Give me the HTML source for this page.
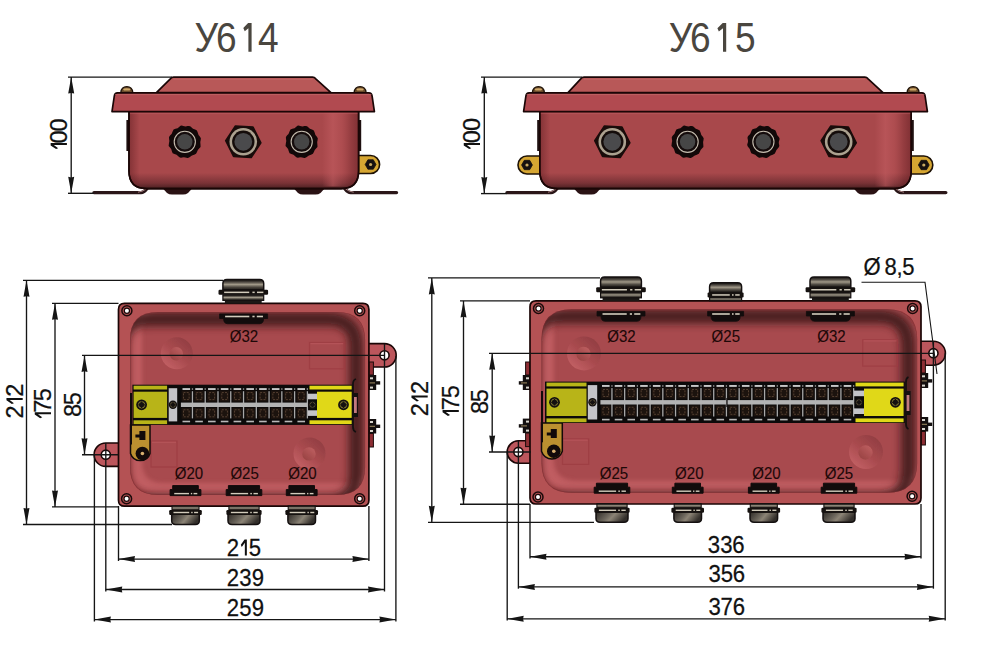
<!DOCTYPE html><html><head><meta charset="utf-8"><style>
html,body{margin:0;padding:0;background:#fff;width:1000px;height:647px;overflow:hidden}
svg{display:block}
.dt{font-family:"Liberation Sans",sans-serif;font-size:24.6px;fill:#111;stroke:#111;stroke-width:0.25}
.tt{font-family:"Liberation Sans",sans-serif;font-size:41.7px;fill:#4a463f}
text{font-family:"Liberation Sans",sans-serif}
.gl{font-family:"Liberation Sans",sans-serif;font-size:16.9px;fill:#1e0808;stroke:#1e0808;stroke-width:0.12}
</style></head><body>
<svg width="1000" height="647" viewBox="0 0 1000 647">
<defs>
<linearGradient id="bodyg" x1="0" y1="0" x2="0" y2="1">
<stop offset="0" stop-color="#a8484b"/><stop offset="0.8" stop-color="#a8484b"/><stop offset="0.93" stop-color="#7a3236"/><stop offset="1" stop-color="#4a2022"/>
</linearGradient>
<linearGradient id="bodyh" x1="0" y1="0" x2="1" y2="0">
<stop offset="0" stop-color="#5a1a1e" stop-opacity="0.35"/><stop offset="0.04" stop-color="#5a1a1e" stop-opacity="0.0"/><stop offset="0.86" stop-color="#d06a6e" stop-opacity="0"/><stop offset="0.9" stop-color="#d06a6e" stop-opacity="0.3"/><stop offset="0.95" stop-color="#5a1a1e" stop-opacity="0.15"/><stop offset="1" stop-color="#5a1a1e" stop-opacity="0.4"/>
</linearGradient>
<linearGradient id="bodyhr" x1="0" y1="0" x2="1" y2="0">
<stop offset="0" stop-color="#c45e62" stop-opacity="0"/><stop offset="0.3" stop-color="#c45e62" stop-opacity="0.55"/><stop offset="0.55" stop-color="#c45e62" stop-opacity="0.2"/><stop offset="0.8" stop-color="#5a1a1e" stop-opacity="0.25"/><stop offset="1" stop-color="#5a1a1e" stop-opacity="0.5"/>
</linearGradient>
<linearGradient id="bodyhl" x1="0" y1="0" x2="1" y2="0">
<stop offset="0" stop-color="#5a1a1e" stop-opacity="0.45"/><stop offset="1" stop-color="#5a1a1e" stop-opacity="0"/>
</linearGradient>
<linearGradient id="capg" x1="0" y1="0" x2="0" y2="1">
<stop offset="0" stop-color="#161412"/><stop offset="0.22" stop-color="#45403a"/><stop offset="0.48" stop-color="#a09888"/><stop offset="0.75" stop-color="#4a453e"/><stop offset="1" stop-color="#1e1b18"/>
</linearGradient>
<linearGradient id="capb" x1="0" y1="0" x2="1" y2="0.3">
<stop offset="0" stop-color="#2e2a26"/><stop offset="0.45" stop-color="#6e685e"/><stop offset="0.6" stop-color="#8c8476"/><stop offset="1" stop-color="#322e2a"/>
</linearGradient>
<linearGradient id="bossg" x1="0.85" y1="0.1" x2="0.15" y2="0.9">
<stop offset="0" stop-color="#923e42"/><stop offset="0.5" stop-color="#a84a4e"/><stop offset="1" stop-color="#c26064"/>
</linearGradient>
<linearGradient id="bossi" x1="0.85" y1="0.1" x2="0.15" y2="0.9">
<stop offset="0" stop-color="#c46466"/><stop offset="1" stop-color="#94403f"/>
</linearGradient>
<filter id="blur4" x="-10%" y="-10%" width="120%" height="120%"><feGaussianBlur stdDeviation="4"/></filter>
<filter id="blur2" x="-10%" y="-10%" width="120%" height="120%"><feGaussianBlur stdDeviation="2"/></filter>
<filter id="blur05" x="-10%" y="-10%" width="120%" height="120%"><feGaussianBlur stdDeviation="0.7"/></filter>
</defs>
<rect width="1000" height="647" fill="#fff"/>

<g transform="translate(0,51.80)"><text transform="scale(0.8900,1)" x="218.65" y="0" style="font-size:41.70px" fill="#4a463f">У</text><text transform="scale(0.8900,1)" x="242.59" y="0" style="font-size:41.70px" fill="#4a463f">6</text><path d="M 251.60 0.00 L 251.60 -28.69 L 248.10 -28.69 L 243.30 -23.88 L 244.74 -20.52 L 248.40 -23.57 L 248.40 0.00 Z" fill="#4a463f"/><text transform="scale(0.8900,1)" x="289.83" y="0" style="font-size:41.70px" fill="#4a463f">4</text></g>
<g transform="translate(0,51.80)"><text transform="scale(0.8900,1)" x="751.46" y="0" style="font-size:41.70px" fill="#4a463f">У</text><text transform="scale(0.8900,1)" x="775.40" y="0" style="font-size:41.70px" fill="#4a463f">6</text><path d="M 726.20 0.00 L 726.20 -28.69 L 722.70 -28.69 L 717.40 -23.59 L 718.84 -20.23 L 723.00 -23.57 L 723.00 0.00 Z" fill="#4a463f"/><text transform="scale(0.8900,1)" x="825.75" y="0" style="font-size:41.70px" fill="#4a463f">5</text></g>
<path d="M 94.00 192.6 H 141.00 Q 144.00 192.6 147.00 188.6" fill="none" stroke="#2a1618" stroke-width="3.4" stroke-linecap="round"/>
<path d="M 138.00 192.2 Q 143.00 191.5 146.00 189" fill="none" stroke="#c9a0a0" stroke-width="0.8"/>
<path d="M 344.70 188.6 Q 347.70 192.6 350.70 192.6 H 396.50" fill="none" stroke="#2a1618" stroke-width="3.4" stroke-linecap="round"/>
<path d="M 345.70 189 Q 348.70 191.5 353.70 192.2" fill="none" stroke="#c9a0a0" stroke-width="0.8"/>
<path d="M 162.00 187.5 L 167.00 193 Q 169.00 194.6 172.00 194.6 H 183.00 Q 186.00 194.6 188.00 193 L 193.00 187.5 Z" fill="#2a1214"/>
<path d="M 293.00 187.5 L 298.00 193 Q 300.00 194.6 303.00 194.6 H 315.50 Q 318.50 194.6 320.50 193 L 325.50 187.5 Z" fill="#2a1214"/>
<path d="M 357.00 155.50 H 370.60 A 9.00 9.00 0 0 1 370.60 173.50 H 357.00 Z" fill="#d6a632" stroke="#1e1206" stroke-width="1.6"/>
<path d="M 376.00 164.50 L 373.30 169.18 L 367.90 169.18 L 365.20 164.50 L 367.90 159.82 L 373.30 159.82 Z" fill="#161010" stroke="#161010" stroke-width="0.8" stroke-linejoin="round"/>
<circle cx="370.60" cy="164.50" r="1.6" fill="#c8a860"/>
<rect x="126.40" y="120" width="3" height="31" fill="#1e1010"/>
<rect x="358.20" y="120" width="3" height="31" fill="#1e1010"/>
<path d="M 129.00 110 V 171 Q 129.00 188.6 146.50 188.6 H 341.10 Q 358.60 188.6 358.60 171 V 110 Z" fill="url(#bodyg)" stroke="#1a0606" stroke-width="1.6"/>
<clipPath id="bc129"><path d="M 129.00 110 V 171 Q 129.00 188.6 146.50 188.6 H 341.10 Q 358.60 188.6 358.60 171 V 110 Z"/></clipPath>
<g clip-path="url(#bc129)">
<rect x="322.10" y="112.5" width="36" height="74" fill="url(#bodyhr)"/>
<rect x="129.50" y="112.5" width="10" height="74" fill="url(#bodyhl)"/>
</g>
<path d="M 129.00 110 V 171 Q 129.00 188.6 146.50 188.6 H 341.10 Q 358.60 188.6 358.60 171 V 110 Z" fill="none" stroke="#1a0606" stroke-width="1.6"/>
<path d="M 120.80 92.6 Q 121.30 86.6 126.80 86.6 Q 132.30 86.6 132.80 92.6 Z" fill="#6a4c2c" stroke="#1e1208" stroke-width="1.3"/>
<ellipse cx="126.80" cy="89.4" rx="3.6" ry="1.2" fill="#d0a868"/>
<path d="M 354.10 92.6 Q 354.60 86.6 360.10 86.6 Q 365.60 86.6 366.10 92.6 Z" fill="#6a4c2c" stroke="#1e1208" stroke-width="1.3"/>
<ellipse cx="360.10" cy="89.4" rx="3.6" ry="1.2" fill="#d0a868"/>
<path d="M 156.40 92.6 L 170.60 78.6 Q 171.60 77.2 173.60 77.2 H 312.50 Q 314.50 77.2 315.50 78.6 L 331.00 92.6 Z" fill="#b85858" stroke="#1a0606" stroke-width="1.7" stroke-linejoin="round"/>
<line x1="173.60" y1="79.2" x2="312.50" y2="79.2" stroke="#c8706f" stroke-width="1" opacity="0.6"/>
<path d="M 112.00 111.6 L 114.30 96 Q 114.70 92.8 117.50 92.8 H 368.90 Q 371.70 92.8 372.10 96 L 374.40 111.6 Z" fill="#b14a50" stroke="#1a0606" stroke-width="1.7" stroke-linejoin="round"/>
<line x1="115.00" y1="94.6" x2="371.40" y2="94.6" stroke="#c8706f" stroke-width="1" opacity="0.6"/>
<line x1="130.00" y1="113.6" x2="357.60" y2="113.6" stroke="#c06066" stroke-width="1" opacity="0.5"/>
<path d="M 199.36 148.34 Q 197.49 149.79 196.99 152.10 Q 196.49 154.42 194.14 154.74 Q 191.80 155.07 190.21 156.82 Q 188.61 158.57 186.42 157.68 Q 184.23 156.79 181.97 157.51 Q 179.72 158.23 178.26 156.36 Q 176.81 154.49 174.50 153.99 Q 172.18 153.49 171.86 151.14 Q 171.53 148.80 169.78 147.21 Q 168.03 145.61 168.92 143.42 Q 169.81 141.23 169.09 138.97 Q 168.37 136.72 170.24 135.26 Q 172.11 133.81 172.61 131.50 Q 173.11 129.18 175.46 128.86 Q 177.80 128.53 179.39 126.78 Q 180.99 125.03 183.18 125.92 Q 185.37 126.81 187.63 126.09 Q 189.88 125.37 191.34 127.24 Q 192.79 129.11 195.10 129.61 Q 197.42 130.11 197.74 132.46 Q 198.07 134.80 199.82 136.39 Q 201.57 137.99 200.68 140.18 Q 199.79 142.37 200.51 144.63 Q 201.23 146.88 199.36 148.34 Z" fill="#120808"/>
<circle cx="184.80" cy="141.80" r="11.2" fill="#150c0c"/>
<circle cx="184.80" cy="141.80" r="10.6" fill="none" stroke="#c4bcae" stroke-width="1.1"/>
<circle cx="184.80" cy="141.80" r="7.7" fill="#464646"/>
<path d="M 316.26 148.34 Q 314.39 149.79 313.89 152.10 Q 313.39 154.42 311.04 154.74 Q 308.70 155.07 307.11 156.82 Q 305.51 158.57 303.32 157.68 Q 301.13 156.79 298.87 157.51 Q 296.62 158.23 295.16 156.36 Q 293.71 154.49 291.40 153.99 Q 289.08 153.49 288.76 151.14 Q 288.43 148.80 286.68 147.21 Q 284.93 145.61 285.82 143.42 Q 286.71 141.23 285.99 138.97 Q 285.27 136.72 287.14 135.26 Q 289.01 133.81 289.51 131.50 Q 290.01 129.18 292.36 128.86 Q 294.70 128.53 296.29 126.78 Q 297.89 125.03 300.08 125.92 Q 302.27 126.81 304.53 126.09 Q 306.78 125.37 308.24 127.24 Q 309.69 129.11 312.00 129.61 Q 314.32 130.11 314.64 132.46 Q 314.97 134.80 316.72 136.39 Q 318.47 137.99 317.58 140.18 Q 316.69 142.37 317.41 144.63 Q 318.13 146.88 316.26 148.34 Z" fill="#120808"/>
<circle cx="301.70" cy="141.80" r="11.2" fill="#150c0c"/>
<circle cx="301.70" cy="141.80" r="10.6" fill="none" stroke="#c4bcae" stroke-width="1.1"/>
<circle cx="301.70" cy="141.80" r="7.7" fill="#464646"/>
<path d="M 260.87 142.86 L 251.17 157.54 L 233.60 156.49 L 225.73 140.74 L 235.43 126.06 L 253.00 127.11 Z" fill="#1a0c0a" stroke="#1a0c0a" stroke-width="1.6" stroke-linejoin="round"/>
<circle cx="243.30" cy="141.80" r="13.8" fill="#aca290"/>
<circle cx="243.30" cy="141.80" r="11.2" fill="#140c0a"/>
<circle cx="243.30" cy="141.80" r="8.9" fill="#4a4a4c"/>
<path d="M 507.00 192.6 H 551.00 Q 554.00 192.6 557.00 188.6" fill="none" stroke="#2a1618" stroke-width="3.4" stroke-linecap="round"/>
<path d="M 548.00 192.2 Q 553.00 191.5 556.00 189" fill="none" stroke="#c9a0a0" stroke-width="0.8"/>
<path d="M 895.00 188.6 Q 898.00 192.6 901.00 192.6 H 945.80" fill="none" stroke="#2a1618" stroke-width="3.4" stroke-linecap="round"/>
<path d="M 896.00 189 Q 899.00 191.5 904.00 192.2" fill="none" stroke="#c9a0a0" stroke-width="0.8"/>
<path d="M 573.00 187.5 L 578.00 193 Q 580.00 194.6 583.00 194.6 H 591.50 Q 594.50 194.6 596.50 193 L 601.50 187.5 Z" fill="#2a1214"/>
<path d="M 852.80 187.5 L 857.80 193 Q 859.80 194.6 862.80 194.6 H 871.00 Q 874.00 194.6 876.00 193 L 881.00 187.5 Z" fill="#2a1214"/>
<path d="M 541.00 156.00 H 527.00 A 9.00 9.00 0 0 0 527.00 174.00 H 541.00 Z" fill="#d6a632" stroke="#1e1206" stroke-width="1.6"/>
<path d="M 532.40 165.00 L 529.70 169.68 L 524.30 169.68 L 521.60 165.00 L 524.30 160.32 L 529.70 160.32 Z" fill="#161010" stroke="#161010" stroke-width="0.8" stroke-linejoin="round"/>
<circle cx="527.00" cy="165.00" r="1.6" fill="#c8a860"/>
<path d="M 910.00 156.00 H 923.80 A 9.00 9.00 0 0 1 923.80 174.00 H 910.00 Z" fill="#d6a632" stroke="#1e1206" stroke-width="1.6"/>
<path d="M 929.20 165.00 L 926.50 169.68 L 921.10 169.68 L 918.40 165.00 L 921.10 160.32 L 926.50 160.32 Z" fill="#161010" stroke="#161010" stroke-width="0.8" stroke-linejoin="round"/>
<circle cx="923.80" cy="165.00" r="1.6" fill="#c8a860"/>
<rect x="537.20" y="120" width="3" height="31" fill="#1e1010"/>
<rect x="910.80" y="120" width="3" height="31" fill="#1e1010"/>
<path d="M 539.80 110 V 171 Q 539.80 188.6 557.30 188.6 H 893.70 Q 911.20 188.6 911.20 171 V 110 Z" fill="url(#bodyg)" stroke="#1a0606" stroke-width="1.6"/>
<clipPath id="bc539"><path d="M 539.80 110 V 171 Q 539.80 188.6 557.30 188.6 H 893.70 Q 911.20 188.6 911.20 171 V 110 Z"/></clipPath>
<g clip-path="url(#bc539)">
<rect x="874.70" y="112.5" width="36" height="74" fill="url(#bodyhr)"/>
<rect x="540.30" y="112.5" width="10" height="74" fill="url(#bodyhl)"/>
</g>
<path d="M 539.80 110 V 171 Q 539.80 188.6 557.30 188.6 H 893.70 Q 911.20 188.6 911.20 171 V 110 Z" fill="none" stroke="#1a0606" stroke-width="1.6"/>
<path d="M 532.40 92.6 Q 532.90 86.6 538.40 86.6 Q 543.90 86.6 544.40 92.6 Z" fill="#6a4c2c" stroke="#1e1208" stroke-width="1.3"/>
<ellipse cx="538.40" cy="89.4" rx="3.6" ry="1.2" fill="#d0a868"/>
<path d="M 907.10 92.6 Q 907.60 86.6 913.10 86.6 Q 918.60 86.6 919.10 92.6 Z" fill="#6a4c2c" stroke="#1e1208" stroke-width="1.3"/>
<ellipse cx="913.10" cy="89.4" rx="3.6" ry="1.2" fill="#d0a868"/>
<path d="M 568.00 92.6 L 581.00 78.6 Q 582.00 77.2 584.00 77.2 H 864.80 Q 866.80 77.2 867.80 78.6 L 883.00 92.6 Z" fill="#b85858" stroke="#1a0606" stroke-width="1.7" stroke-linejoin="round"/>
<line x1="584.00" y1="79.2" x2="864.80" y2="79.2" stroke="#c8706f" stroke-width="1" opacity="0.6"/>
<path d="M 523.60 111.6 L 525.90 96 Q 526.30 92.8 529.10 92.8 H 921.90 Q 924.70 92.8 925.10 96 L 927.40 111.6 Z" fill="#b14a50" stroke="#1a0606" stroke-width="1.7" stroke-linejoin="round"/>
<line x1="526.60" y1="94.6" x2="924.40" y2="94.6" stroke="#c8706f" stroke-width="1" opacity="0.6"/>
<line x1="540.80" y1="113.6" x2="910.20" y2="113.6" stroke="#c06066" stroke-width="1" opacity="0.5"/>
<path d="M 702.16 148.34 Q 700.29 149.79 699.79 152.10 Q 699.29 154.42 696.94 154.74 Q 694.60 155.07 693.01 156.82 Q 691.41 158.57 689.22 157.68 Q 687.03 156.79 684.77 157.51 Q 682.52 158.23 681.06 156.36 Q 679.61 154.49 677.30 153.99 Q 674.98 153.49 674.66 151.14 Q 674.33 148.80 672.58 147.21 Q 670.83 145.61 671.72 143.42 Q 672.61 141.23 671.89 138.97 Q 671.17 136.72 673.04 135.26 Q 674.91 133.81 675.41 131.50 Q 675.91 129.18 678.26 128.86 Q 680.60 128.53 682.19 126.78 Q 683.79 125.03 685.98 125.92 Q 688.17 126.81 690.43 126.09 Q 692.68 125.37 694.14 127.24 Q 695.59 129.11 697.90 129.61 Q 700.22 130.11 700.54 132.46 Q 700.87 134.80 702.62 136.39 Q 704.37 137.99 703.48 140.18 Q 702.59 142.37 703.31 144.63 Q 704.03 146.88 702.16 148.34 Z" fill="#120808"/>
<circle cx="687.60" cy="141.80" r="11.2" fill="#150c0c"/>
<circle cx="687.60" cy="141.80" r="10.6" fill="none" stroke="#c4bcae" stroke-width="1.1"/>
<circle cx="687.60" cy="141.80" r="7.7" fill="#464646"/>
<path d="M 777.96 148.34 Q 776.09 149.79 775.59 152.10 Q 775.09 154.42 772.74 154.74 Q 770.40 155.07 768.81 156.82 Q 767.21 158.57 765.02 157.68 Q 762.83 156.79 760.57 157.51 Q 758.32 158.23 756.86 156.36 Q 755.41 154.49 753.10 153.99 Q 750.78 153.49 750.46 151.14 Q 750.13 148.80 748.38 147.21 Q 746.63 145.61 747.52 143.42 Q 748.41 141.23 747.69 138.97 Q 746.97 136.72 748.84 135.26 Q 750.71 133.81 751.21 131.50 Q 751.71 129.18 754.06 128.86 Q 756.40 128.53 757.99 126.78 Q 759.59 125.03 761.78 125.92 Q 763.97 126.81 766.23 126.09 Q 768.48 125.37 769.94 127.24 Q 771.39 129.11 773.70 129.61 Q 776.02 130.11 776.34 132.46 Q 776.67 134.80 778.42 136.39 Q 780.17 137.99 779.28 140.18 Q 778.39 142.37 779.11 144.63 Q 779.83 146.88 777.96 148.34 Z" fill="#120808"/>
<circle cx="763.40" cy="141.80" r="11.2" fill="#150c0c"/>
<circle cx="763.40" cy="141.80" r="10.6" fill="none" stroke="#c4bcae" stroke-width="1.1"/>
<circle cx="763.40" cy="141.80" r="7.7" fill="#464646"/>
<path d="M 629.87 142.86 L 620.17 157.54 L 602.60 156.49 L 594.73 140.74 L 604.43 126.06 L 622.00 127.11 Z" fill="#1a0c0a" stroke="#1a0c0a" stroke-width="1.6" stroke-linejoin="round"/>
<circle cx="612.30" cy="141.80" r="13.8" fill="#aca290"/>
<circle cx="612.30" cy="141.80" r="11.2" fill="#140c0a"/>
<circle cx="612.30" cy="141.80" r="8.9" fill="#4a4a4c"/>
<path d="M 856.27 142.86 L 846.57 157.54 L 829.00 156.49 L 821.13 140.74 L 830.83 126.06 L 848.40 127.11 Z" fill="#1a0c0a" stroke="#1a0c0a" stroke-width="1.6" stroke-linejoin="round"/>
<circle cx="838.70" cy="141.80" r="13.8" fill="#aca290"/>
<circle cx="838.70" cy="141.80" r="11.2" fill="#140c0a"/>
<circle cx="838.70" cy="141.80" r="8.9" fill="#4a4a4c"/>
<line x1="68.00" y1="77.10" x2="172.00" y2="77.10" stroke="#151515" stroke-width="1.35"/>
<line x1="68.00" y1="193.30" x2="94.00" y2="193.30" stroke="#151515" stroke-width="1.35"/>
<line x1="71.20" y1="77.10" x2="71.20" y2="193.30" stroke="#151515" stroke-width="1.35"/>
<polygon points="71.20,77.10 68.20,93.60 71.20,93.00 74.20,93.60" fill="#151515"/>
<polygon points="71.20,193.30 68.20,176.80 71.20,177.40 74.20,176.80" fill="#151515"/>
<g transform="translate(66.90,149.10) rotate(-90)"><path d="M 6.00 0.00 L 6.00 -16.24 L 3.70 -16.24 L 0.00 -10.84 L 0.90 -8.74 L 4.00 -13.04 L 4.00 0.00 Z" fill="#111"/><text transform="scale(1.0000,1)" x="5.65" y="0" style="font-size:23.60px" fill="#111" stroke="#111" stroke-width="0.25">0</text><text transform="scale(1.0000,1)" x="17.50" y="0" style="font-size:23.60px" fill="#111" stroke="#111" stroke-width="0.25">0</text></g>
<line x1="481.00" y1="77.10" x2="582.00" y2="77.10" stroke="#151515" stroke-width="1.35"/>
<line x1="481.00" y1="193.60" x2="507.00" y2="193.60" stroke="#151515" stroke-width="1.35"/>
<line x1="484.30" y1="77.10" x2="484.30" y2="193.60" stroke="#151515" stroke-width="1.35"/>
<polygon points="484.30,77.10 481.30,93.60 484.30,93.00 487.30,93.60" fill="#151515"/>
<polygon points="484.30,193.60 481.30,177.10 484.30,177.70 487.30,177.10" fill="#151515"/>
<g transform="translate(480.00,149.10) rotate(-90)"><path d="M 6.00 0.00 L 6.00 -16.24 L 3.70 -16.24 L 0.00 -10.84 L 0.90 -8.74 L 4.00 -13.04 L 4.00 0.00 Z" fill="#111"/><text transform="scale(1.0000,1)" x="5.90" y="0" style="font-size:23.60px" fill="#111" stroke="#111" stroke-width="0.25">0</text><text transform="scale(1.0000,1)" x="18.00" y="0" style="font-size:23.60px" fill="#111" stroke="#111" stroke-width="0.25">0</text></g>
<path d="M 119.00 443.00 H 105.80 A 11.70 11.70 0 0 0 105.80 466.40 H 119.00 Z" fill="#bc565c" stroke="#1a0606" stroke-width="1.6"/>
<circle cx="105.80" cy="454.70" r="4.60" fill="#fff" stroke="#1a0606" stroke-width="1.6"/>
<path d="M 368.00 343.60 H 384.50 A 11.70 11.70 0 0 1 384.50 367.00 H 368.00 Z" fill="#bc565c" stroke="#1a0606" stroke-width="1.6"/>
<circle cx="384.50" cy="355.30" r="4.60" fill="#fff" stroke="#1a0606" stroke-width="1.6"/>
<rect x="369.00" y="362.00" width="4.4" height="13" fill="#8e2e34" stroke="#1a0a0a" stroke-width="1"/>
<rect x="369.00" y="375.00" width="7.2" height="15" fill="#141010"/>
<rect x="369.00" y="381.20" width="11.2" height="3.4" fill="#141010"/>
<rect x="370.00" y="377.30" width="3" height="2" fill="#d8d4cc"/>
<rect x="370.00" y="386.60" width="3" height="2" fill="#d8d4cc"/>
<rect x="369.00" y="382.40" width="6" height="1" fill="#a08a60"/>
<rect x="369.00" y="419.00" width="7.2" height="14.5" fill="#141010"/>
<rect x="369.00" y="424.60" width="11.2" height="3.4" fill="#141010"/>
<rect x="370.00" y="421.00" width="3" height="2" fill="#d8d4cc"/>
<rect x="370.00" y="430.00" width="3" height="2" fill="#d8d4cc"/>
<rect x="369.00" y="425.80" width="6" height="1" fill="#a08a60"/>
<rect x="369.00" y="433.50" width="4.4" height="13.5" fill="#8e2e34" stroke="#1a0a0a" stroke-width="1"/>
<path d="M 124.50 303.40 H 362.90 Q 368.90 303.40 368.90 309.40 V 500.20 Q 368.90 506.20 362.90 506.20 H 124.50 Q 118.50 506.20 118.50 500.20 V 309.40 Q 118.50 303.40 124.50 303.40 Z" fill="#b45254" stroke="#1a0606" stroke-width="1.7"/>
<clipPath id="c614"><path d="M 158.00 311.90 H 337.10 Q 365.10 311.90 365.10 339.90 V 467.00 Q 365.10 495.00 337.10 495.00 H 158.00 Q 130.00 495.00 130.00 467.00 V 339.90 Q 130.00 311.90 158.00 311.90 Z"/></clipPath>
<path d="M 158.00 311.90 H 337.10 Q 365.10 311.90 365.10 339.90 V 467.00 Q 365.10 495.00 337.10 495.00 H 158.00 Q 130.00 495.00 130.00 467.00 V 339.90 Q 130.00 311.90 158.00 311.90 Z" fill="#a84a4e"/>
<g clip-path="url(#c614)">
<path d="M 158.00 311.90 H 337.10 Q 365.10 311.90 365.10 339.90 V 467.00 Q 365.10 495.00 337.10 495.00 H 158.00 Q 130.00 495.00 130.00 467.00 V 339.90 Q 130.00 311.90 158.00 311.90 Z" fill="none" stroke="#c86468" stroke-width="12" opacity="0.75" filter="url(#blur2)" transform="translate(6,-6)"/>
<path d="M 158.00 311.90 H 337.10 Q 365.10 311.90 365.10 339.90 V 467.00 Q 365.10 495.00 337.10 495.00 H 158.00 Q 130.00 495.00 130.00 467.00 V 339.90 Q 130.00 311.90 158.00 311.90 Z" fill="none" stroke="#361416" stroke-width="14" opacity="0.85" filter="url(#blur4)" transform="translate(-9,7)"/>
<path d="M 158.00 311.90 H 337.10 Q 365.10 311.90 365.10 339.90 V 467.00 Q 365.10 495.00 337.10 495.00 H 158.00 Q 130.00 495.00 130.00 467.00 V 339.90 Q 130.00 311.90 158.00 311.90 Z" fill="none" stroke="#7a2a2e" stroke-width="1.2" opacity="0.6"/>
</g>
<circle cx="176.80" cy="353.20" r="16.00" fill="url(#bossg)" filter="url(#blur05)"/>
<circle cx="176.30" cy="353.70" r="6.72" fill="url(#bossi)" opacity="0.8" filter="url(#blur05)"/>
<circle cx="309.50" cy="453.40" r="16.00" fill="url(#bossg)" filter="url(#blur05)"/>
<circle cx="309.00" cy="453.90" r="6.72" fill="url(#bossi)" opacity="0.8" filter="url(#blur05)"/>
<rect x="309.50" y="342.50" width="34.70" height="26.30" fill="none" stroke="#9c3c42" stroke-width="1.2" opacity="0.8"/>
<line x1="310.50" y1="343.70" x2="343.20" y2="343.70" stroke="#c46066" stroke-width="1" opacity="0.6"/>
<rect x="151.00" y="441.00" width="26.00" height="26.00" fill="none" stroke="#9c3c42" stroke-width="1.2" opacity="0.8"/>
<line x1="152.00" y1="442.20" x2="176.00" y2="442.20" stroke="#c46066" stroke-width="1" opacity="0.6"/>
<circle cx="126.90" cy="310.80" r="5" fill="none" stroke="#1a0a0a" stroke-width="1.5"/>
<circle cx="126.90" cy="310.80" r="2.6" fill="#fff" stroke="#1a0a0a" stroke-width="1.2"/>
<circle cx="359.70" cy="310.80" r="5" fill="none" stroke="#1a0a0a" stroke-width="1.5"/>
<circle cx="359.70" cy="310.80" r="2.6" fill="#fff" stroke="#1a0a0a" stroke-width="1.2"/>
<circle cx="126.60" cy="498.70" r="5" fill="none" stroke="#1a0a0a" stroke-width="1.5"/>
<circle cx="126.60" cy="498.70" r="2.6" fill="#fff" stroke="#1a0a0a" stroke-width="1.2"/>
<circle cx="359.70" cy="498.70" r="5" fill="none" stroke="#1a0a0a" stroke-width="1.5"/>
<circle cx="359.70" cy="498.70" r="2.6" fill="#fff" stroke="#1a0a0a" stroke-width="1.2"/>
<rect x="224.90" y="294.80" width="36.80" height="8.90" fill="#1c1816"/>
<rect x="222.90" y="294.80" width="40.80" height="5.60" fill="url(#capg)" stroke="#141010" stroke-width="1.2"/>
<path d="M 222.90 289.80 V 283.60 Q 222.90 279.60 226.90 279.60 H 259.70 Q 263.70 279.60 263.70 283.60 V 289.80 Z" fill="url(#capg)" stroke="#141010" stroke-width="1.5"/>
<rect x="218.50" y="289.80" width="49.60" height="5.00" rx="1.2" fill="#161210"/>
<rect x="224.15" y="291.60" width="25.08" height="1.50" fill="#d2cbbb"/>
<rect x="252.42" y="291.60" width="2.28" height="1.50" fill="#d2cbbb"/>
<rect x="256.98" y="291.60" width="6.38" height="1.50" fill="#d2cbbb"/>
<path d="M 219.60 313.90 H 267.60 V 318.50 H 263.60 Q 263.60 323.70 259.60 323.70 H 227.60 Q 223.60 323.70 223.60 318.50 V 318.50 H 219.60 Z" fill="#120c0c" stroke="#120c0c" stroke-width="0.8" stroke-linejoin="round"/>
<rect x="225.12" y="315.70" width="24.20" height="1.60" fill="#d2cbbb"/>
<rect x="252.40" y="315.70" width="2.20" height="1.60" fill="#d2cbbb"/>
<rect x="256.80" y="315.70" width="6.16" height="1.60" fill="#d2cbbb"/>
<text class="gl" text-anchor="middle" transform="translate(243.9,341.7) scale(0.89,1)">Ø32</text>
<rect x="172.00" y="505.90" width="27.00" height="4.3" fill="url(#capg)" stroke="#141010" stroke-width="1.1"/>
<path d="M 171.70 514.20 V 520.70 Q 171.70 524.40 175.70 524.40 H 195.30 Q 199.30 524.40 199.30 520.70 V 514.20 Z" fill="url(#capb)" stroke="#141010" stroke-width="1.5"/>
<rect x="169.20" y="510.00" width="32.60" height="4.9" rx="1.2" fill="#161210"/>
<rect x="173.49" y="511.80" width="15.73" height="1.40" fill="#d2cbbb"/>
<rect x="191.22" y="511.80" width="1.43" height="1.40" fill="#d2cbbb"/>
<rect x="194.08" y="511.80" width="4.00" height="1.40" fill="#d2cbbb"/>
<path d="M 172.70 485.60 H 198.30 V 489.60 H 200.90 V 495.60 H 170.10 V 489.60 H 172.70 Z" fill="#120c0c" stroke="#120c0c" stroke-width="1" stroke-linejoin="round"/>
<rect x="174.24" y="492.90" width="14.74" height="1.40" fill="#d2cbbb"/>
<rect x="190.86" y="492.90" width="1.34" height="1.40" fill="#d2cbbb"/>
<rect x="193.54" y="492.90" width="3.75" height="1.40" fill="#d2cbbb"/>
<text class="gl" text-anchor="middle" transform="translate(188.90,479.2) scale(0.89,1)">Ø20</text>
<rect x="228.90" y="505.90" width="30.20" height="4.3" fill="url(#capg)" stroke="#141010" stroke-width="1.1"/>
<path d="M 228.00 514.20 V 520.70 Q 228.00 524.40 232.00 524.40 H 256.00 Q 260.00 524.40 260.00 520.70 V 514.20 Z" fill="url(#capb)" stroke="#141010" stroke-width="1.5"/>
<rect x="226.40" y="510.00" width="35.20" height="4.9" rx="1.2" fill="#161210"/>
<rect x="230.90" y="511.80" width="17.16" height="1.40" fill="#d2cbbb"/>
<rect x="250.24" y="511.80" width="1.56" height="1.40" fill="#d2cbbb"/>
<rect x="253.36" y="511.80" width="4.37" height="1.40" fill="#d2cbbb"/>
<path d="M 228.40 485.60 H 259.60 V 489.60 H 261.80 V 495.60 H 226.20 V 489.60 H 228.40 Z" fill="#120c0c" stroke="#120c0c" stroke-width="1" stroke-linejoin="round"/>
<rect x="230.73" y="492.90" width="17.38" height="1.40" fill="#d2cbbb"/>
<rect x="250.32" y="492.90" width="1.58" height="1.40" fill="#d2cbbb"/>
<rect x="253.48" y="492.90" width="4.42" height="1.40" fill="#d2cbbb"/>
<text class="gl" text-anchor="middle" transform="translate(244.60,479.2) scale(0.89,1)">Ø25</text>
<rect x="288.20" y="505.90" width="27.00" height="4.3" fill="url(#capg)" stroke="#141010" stroke-width="1.1"/>
<path d="M 287.90 514.20 V 520.70 Q 287.90 524.40 291.90 524.40 H 311.50 Q 315.50 524.40 315.50 520.70 V 514.20 Z" fill="url(#capb)" stroke="#141010" stroke-width="1.5"/>
<rect x="285.40" y="510.00" width="32.60" height="4.9" rx="1.2" fill="#161210"/>
<rect x="289.69" y="511.80" width="15.73" height="1.40" fill="#d2cbbb"/>
<rect x="307.42" y="511.80" width="1.43" height="1.40" fill="#d2cbbb"/>
<rect x="310.28" y="511.80" width="4.00" height="1.40" fill="#d2cbbb"/>
<path d="M 288.90 485.60 H 314.50 V 489.60 H 317.10 V 495.60 H 286.30 V 489.60 H 288.90 Z" fill="#120c0c" stroke="#120c0c" stroke-width="1" stroke-linejoin="round"/>
<rect x="290.44" y="492.90" width="14.74" height="1.40" fill="#d2cbbb"/>
<rect x="307.06" y="492.90" width="1.34" height="1.40" fill="#d2cbbb"/>
<rect x="309.74" y="492.90" width="3.75" height="1.40" fill="#d2cbbb"/>
<text class="gl" text-anchor="middle" transform="translate(302.50,479.2) scale(0.89,1)">Ø20</text>
<path d="M 130.50 425.00 H 150.00 V 453.50 A 10.25 10.25 0 0 1 130.50 453.50 V 444.50 H 130.50 V 425.00 Z" fill="#bc9030" stroke="#120a08" stroke-width="1.5"/>
<circle cx="142.40" cy="453.50" r="6.8" fill="#120a0a"/>
<circle cx="142.40" cy="453.50" r="1.8" fill="#d8b070"/>
<path d="M 139.40 431.00 h 6 v 9 h -6 z M 135.40 434.50 h 4 v 3 h -4 z" fill="#120a0a"/>
<rect x="130.00" y="393.00" width="2" height="51.50" fill="#120a0a"/>
<rect x="132.40" y="384.70" width="220.50" height="40.20" fill="#0c0a0a"/>
<rect x="133.60" y="385.70" width="33.50" height="3.8" fill="#b8b418"/>
<rect x="133.60" y="391.70" width="33.50" height="26.20" fill="#b8b418"/>
<rect x="133.60" y="420.30" width="33.50" height="3.8" fill="#b8b418"/>
<circle cx="141.60" cy="404.80" r="5.40" fill="#141010"/>
<circle cx="141.60" cy="404.80" r="3.24" fill="none" stroke="#d6c84a" stroke-width="0.8" opacity="0.7"/>
<path d="M 138.36 404.80 H 144.84 M 141.60 401.56 V 408.04" stroke="#141010" stroke-width="1.2"/>
<rect x="168.70" y="388.20" width="8.50" height="33.20" fill="#c4c4c8"/>
<circle cx="172.95" cy="404.80" r="4.20" fill="#141010"/>
<circle cx="172.95" cy="404.80" r="2.52" fill="none" stroke="#8a7a50" stroke-width="0.8" opacity="0.7"/>
<path d="M 170.43 404.80 H 175.47 M 172.95 402.28 V 407.32" stroke="#141010" stroke-width="1.2"/>
<rect x="182.50" y="388.20" width="7.6" height="1.7" fill="#dcdcdc"/>
<rect x="182.50" y="420.70" width="7.6" height="1.6" fill="#b8b8b8"/>
<rect x="181.60" y="390.60" width="9.4" height="11.0" fill="#1c130e"/>
<rect x="183.50" y="392.60" width="5.6" height="7" fill="none" stroke="#5a4434" stroke-width="0.9" stroke-dasharray="2 1.2"/>
<rect x="181.60" y="407.80" width="9.4" height="11.0" fill="#1c130e"/>
<rect x="183.50" y="409.80" width="5.6" height="7" fill="none" stroke="#5a4434" stroke-width="0.9" stroke-dasharray="2 1.2"/>
<rect x="191.80" y="391.20" width="1.3" height="27.20" fill="#a8a8a8"/>
<rect x="191.80" y="388.20" width="1.3" height="1.7" fill="#888"/>
<rect x="195.27" y="388.20" width="7.6" height="1.7" fill="#dcdcdc"/>
<rect x="195.27" y="420.70" width="7.6" height="1.6" fill="#b8b8b8"/>
<rect x="194.37" y="390.60" width="9.4" height="11.0" fill="#1c130e"/>
<rect x="196.27" y="392.60" width="5.6" height="7" fill="none" stroke="#5a4434" stroke-width="0.9" stroke-dasharray="2 1.2"/>
<rect x="194.37" y="407.80" width="9.4" height="11.0" fill="#1c130e"/>
<rect x="196.27" y="409.80" width="5.6" height="7" fill="none" stroke="#5a4434" stroke-width="0.9" stroke-dasharray="2 1.2"/>
<rect x="204.57" y="391.20" width="1.3" height="27.20" fill="#a8a8a8"/>
<rect x="204.57" y="388.20" width="1.3" height="1.7" fill="#888"/>
<rect x="208.04" y="388.20" width="7.6" height="1.7" fill="#dcdcdc"/>
<rect x="208.04" y="420.70" width="7.6" height="1.6" fill="#b8b8b8"/>
<rect x="207.14" y="390.60" width="9.4" height="11.0" fill="#1c130e"/>
<rect x="209.04" y="392.60" width="5.6" height="7" fill="none" stroke="#5a4434" stroke-width="0.9" stroke-dasharray="2 1.2"/>
<rect x="207.14" y="407.80" width="9.4" height="11.0" fill="#1c130e"/>
<rect x="209.04" y="409.80" width="5.6" height="7" fill="none" stroke="#5a4434" stroke-width="0.9" stroke-dasharray="2 1.2"/>
<rect x="217.34" y="391.20" width="1.3" height="27.20" fill="#a8a8a8"/>
<rect x="217.34" y="388.20" width="1.3" height="1.7" fill="#888"/>
<rect x="220.81" y="388.20" width="7.6" height="1.7" fill="#dcdcdc"/>
<rect x="220.81" y="420.70" width="7.6" height="1.6" fill="#b8b8b8"/>
<rect x="219.91" y="390.60" width="9.4" height="11.0" fill="#1c130e"/>
<rect x="221.81" y="392.60" width="5.6" height="7" fill="none" stroke="#5a4434" stroke-width="0.9" stroke-dasharray="2 1.2"/>
<rect x="219.91" y="407.80" width="9.4" height="11.0" fill="#1c130e"/>
<rect x="221.81" y="409.80" width="5.6" height="7" fill="none" stroke="#5a4434" stroke-width="0.9" stroke-dasharray="2 1.2"/>
<rect x="230.11" y="391.20" width="1.3" height="27.20" fill="#a8a8a8"/>
<rect x="230.11" y="388.20" width="1.3" height="1.7" fill="#888"/>
<rect x="233.58" y="388.20" width="7.6" height="1.7" fill="#dcdcdc"/>
<rect x="233.58" y="420.70" width="7.6" height="1.6" fill="#b8b8b8"/>
<rect x="232.68" y="390.60" width="9.4" height="11.0" fill="#1c130e"/>
<rect x="234.58" y="392.60" width="5.6" height="7" fill="none" stroke="#5a4434" stroke-width="0.9" stroke-dasharray="2 1.2"/>
<rect x="232.68" y="407.80" width="9.4" height="11.0" fill="#1c130e"/>
<rect x="234.58" y="409.80" width="5.6" height="7" fill="none" stroke="#5a4434" stroke-width="0.9" stroke-dasharray="2 1.2"/>
<rect x="242.88" y="391.20" width="1.3" height="27.20" fill="#a8a8a8"/>
<rect x="242.88" y="388.20" width="1.3" height="1.7" fill="#888"/>
<rect x="246.35" y="388.20" width="7.6" height="1.7" fill="#dcdcdc"/>
<rect x="246.35" y="420.70" width="7.6" height="1.6" fill="#b8b8b8"/>
<rect x="245.45" y="390.60" width="9.4" height="11.0" fill="#1c130e"/>
<rect x="247.35" y="392.60" width="5.6" height="7" fill="none" stroke="#5a4434" stroke-width="0.9" stroke-dasharray="2 1.2"/>
<rect x="245.45" y="407.80" width="9.4" height="11.0" fill="#1c130e"/>
<rect x="247.35" y="409.80" width="5.6" height="7" fill="none" stroke="#5a4434" stroke-width="0.9" stroke-dasharray="2 1.2"/>
<rect x="255.65" y="391.20" width="1.3" height="27.20" fill="#a8a8a8"/>
<rect x="255.65" y="388.20" width="1.3" height="1.7" fill="#888"/>
<rect x="259.12" y="388.20" width="7.6" height="1.7" fill="#dcdcdc"/>
<rect x="259.12" y="420.70" width="7.6" height="1.6" fill="#b8b8b8"/>
<rect x="258.22" y="390.60" width="9.4" height="11.0" fill="#1c130e"/>
<rect x="260.12" y="392.60" width="5.6" height="7" fill="none" stroke="#5a4434" stroke-width="0.9" stroke-dasharray="2 1.2"/>
<rect x="258.22" y="407.80" width="9.4" height="11.0" fill="#1c130e"/>
<rect x="260.12" y="409.80" width="5.6" height="7" fill="none" stroke="#5a4434" stroke-width="0.9" stroke-dasharray="2 1.2"/>
<rect x="268.42" y="391.20" width="1.3" height="27.20" fill="#a8a8a8"/>
<rect x="268.42" y="388.20" width="1.3" height="1.7" fill="#888"/>
<rect x="271.89" y="388.20" width="7.6" height="1.7" fill="#dcdcdc"/>
<rect x="271.89" y="420.70" width="7.6" height="1.6" fill="#b8b8b8"/>
<rect x="270.99" y="390.60" width="9.4" height="11.0" fill="#1c130e"/>
<rect x="272.89" y="392.60" width="5.6" height="7" fill="none" stroke="#5a4434" stroke-width="0.9" stroke-dasharray="2 1.2"/>
<rect x="270.99" y="407.80" width="9.4" height="11.0" fill="#1c130e"/>
<rect x="272.89" y="409.80" width="5.6" height="7" fill="none" stroke="#5a4434" stroke-width="0.9" stroke-dasharray="2 1.2"/>
<rect x="281.19" y="391.20" width="1.3" height="27.20" fill="#a8a8a8"/>
<rect x="281.19" y="388.20" width="1.3" height="1.7" fill="#888"/>
<rect x="284.66" y="388.20" width="7.6" height="1.7" fill="#dcdcdc"/>
<rect x="284.66" y="420.70" width="7.6" height="1.6" fill="#b8b8b8"/>
<rect x="283.76" y="390.60" width="9.4" height="11.0" fill="#1c130e"/>
<rect x="285.66" y="392.60" width="5.6" height="7" fill="none" stroke="#5a4434" stroke-width="0.9" stroke-dasharray="2 1.2"/>
<rect x="283.76" y="407.80" width="9.4" height="11.0" fill="#1c130e"/>
<rect x="285.66" y="409.80" width="5.6" height="7" fill="none" stroke="#5a4434" stroke-width="0.9" stroke-dasharray="2 1.2"/>
<rect x="293.96" y="391.20" width="1.3" height="27.20" fill="#a8a8a8"/>
<rect x="293.96" y="388.20" width="1.3" height="1.7" fill="#888"/>
<rect x="297.43" y="388.20" width="7.6" height="1.7" fill="#dcdcdc"/>
<rect x="297.43" y="420.70" width="7.6" height="1.6" fill="#b8b8b8"/>
<rect x="296.53" y="390.60" width="9.4" height="11.0" fill="#1c130e"/>
<rect x="298.43" y="392.60" width="5.6" height="7" fill="none" stroke="#5a4434" stroke-width="0.9" stroke-dasharray="2 1.2"/>
<rect x="296.53" y="407.80" width="9.4" height="11.0" fill="#1c130e"/>
<rect x="298.43" y="409.80" width="5.6" height="7" fill="none" stroke="#5a4434" stroke-width="0.9" stroke-dasharray="2 1.2"/>
<rect x="306.73" y="391.20" width="1.3" height="27.20" fill="#a8a8a8"/>
<rect x="306.73" y="388.20" width="1.3" height="1.7" fill="#888"/>
<rect x="180.90" y="402.60" width="126.70" height="4.4" fill="#b4b4b4"/>
<rect x="308.00" y="393.70" width="9.00" height="5.60" fill="#c4c4c8"/>
<rect x="308.00" y="410.30" width="9.00" height="5.60" fill="#c4c4c8"/>
<circle cx="312.50" cy="404.80" r="4.20" fill="#141010"/>
<circle cx="312.50" cy="404.80" r="2.52" fill="none" stroke="#8a7a50" stroke-width="0.8" opacity="0.7"/>
<path d="M 309.98 404.80 H 315.02 M 312.50 402.28 V 407.32" stroke="#141010" stroke-width="1.2"/>
<rect x="309.50" y="385.70" width="42.20" height="3.8" fill="#e0d818"/>
<rect x="317.00" y="391.70" width="34.70" height="26.20" fill="#e0d818"/>
<rect x="309.50" y="420.30" width="42.20" height="3.8" fill="#e0d818"/>
<circle cx="343.50" cy="404.80" r="5.40" fill="#141010"/>
<circle cx="343.50" cy="404.80" r="3.24" fill="none" stroke="#d6c84a" stroke-width="0.8" opacity="0.7"/>
<path d="M 340.26 404.80 H 346.74 M 343.50 401.56 V 408.04" stroke="#141010" stroke-width="1.2"/>
<path d="M 356 379 Q 353 380 353 384 V 427 Q 353 431 356 432" fill="none" stroke="#141010" stroke-width="1.8"/>
<rect x="352.6" y="393" width="5.4" height="24" fill="#141010"/>
<rect x="354" y="397" width="2.8" height="16" fill="#c27a7e"/>
<path d="M 531.00 440.80 H 518.40 A 11.20 11.20 0 0 0 518.40 463.20 H 531.00 Z" fill="#bc565c" stroke="#1a0606" stroke-width="1.6"/>
<circle cx="518.40" cy="452.00" r="4.60" fill="#fff" stroke="#1a0606" stroke-width="1.6"/>
<path d="M 920.00 341.20 H 933.40 A 12.00 12.00 0 0 1 933.40 365.20 H 920.00 Z" fill="#bc565c" stroke="#1a0606" stroke-width="1.6"/>
<circle cx="933.40" cy="353.20" r="4.60" fill="#fff" stroke="#1a0606" stroke-width="1.6"/>
<rect x="525.60" y="362.00" width="4.4" height="13" fill="#8e2e34" stroke="#1a0a0a" stroke-width="1"/>
<rect x="522.80" y="375.00" width="7.2" height="15" fill="#141010"/>
<rect x="518.80" y="381.20" width="11.2" height="3.4" fill="#141010"/>
<rect x="526.00" y="377.30" width="3" height="2" fill="#d8d4cc"/>
<rect x="526.00" y="386.60" width="3" height="2" fill="#d8d4cc"/>
<rect x="521.00" y="382.40" width="6" height="1" fill="#a08a60"/>
<rect x="522.80" y="418.60" width="7.2" height="14.5" fill="#141010"/>
<rect x="518.80" y="424.20" width="11.2" height="3.4" fill="#141010"/>
<rect x="526.00" y="420.60" width="3" height="2" fill="#d8d4cc"/>
<rect x="526.00" y="429.60" width="3" height="2" fill="#d8d4cc"/>
<rect x="521.00" y="425.40" width="6" height="1" fill="#a08a60"/>
<rect x="525.60" y="433.10" width="4.4" height="13.5" fill="#8e2e34" stroke="#1a0a0a" stroke-width="1"/>
<rect x="921.00" y="360.00" width="4.4" height="13" fill="#8e2e34" stroke="#1a0a0a" stroke-width="1"/>
<rect x="921.00" y="373.00" width="7.2" height="15" fill="#141010"/>
<rect x="921.00" y="379.20" width="11.2" height="3.4" fill="#141010"/>
<rect x="922.00" y="375.30" width="3" height="2" fill="#d8d4cc"/>
<rect x="922.00" y="384.60" width="3" height="2" fill="#d8d4cc"/>
<rect x="921.00" y="380.40" width="6" height="1" fill="#a08a60"/>
<rect x="921.00" y="417.00" width="7.2" height="14.5" fill="#141010"/>
<rect x="921.00" y="422.60" width="11.2" height="3.4" fill="#141010"/>
<rect x="922.00" y="419.00" width="3" height="2" fill="#d8d4cc"/>
<rect x="922.00" y="428.00" width="3" height="2" fill="#d8d4cc"/>
<rect x="921.00" y="423.80" width="6" height="1" fill="#a08a60"/>
<rect x="921.00" y="431.50" width="4.4" height="13.5" fill="#8e2e34" stroke="#1a0a0a" stroke-width="1"/>
<path d="M 536.00 300.80 H 915.00 Q 921.00 300.80 921.00 306.80 V 498.00 Q 921.00 504.00 915.00 504.00 H 536.00 Q 530.00 504.00 530.00 498.00 V 306.80 Q 530.00 300.80 536.00 300.80 Z" fill="#b45254" stroke="#1a0606" stroke-width="1.7"/>
<clipPath id="c615"><path d="M 571.50 309.30 H 887.20 Q 917.20 309.30 917.20 339.30 V 462.80 Q 917.20 492.80 887.20 492.80 H 571.50 Q 541.50 492.80 541.50 462.80 V 339.30 Q 541.50 309.30 571.50 309.30 Z"/></clipPath>
<path d="M 571.50 309.30 H 887.20 Q 917.20 309.30 917.20 339.30 V 462.80 Q 917.20 492.80 887.20 492.80 H 571.50 Q 541.50 492.80 541.50 462.80 V 339.30 Q 541.50 309.30 571.50 309.30 Z" fill="#a84a4e"/>
<g clip-path="url(#c615)">
<path d="M 571.50 309.30 H 887.20 Q 917.20 309.30 917.20 339.30 V 462.80 Q 917.20 492.80 887.20 492.80 H 571.50 Q 541.50 492.80 541.50 462.80 V 339.30 Q 541.50 309.30 571.50 309.30 Z" fill="none" stroke="#c86468" stroke-width="12" opacity="0.75" filter="url(#blur2)" transform="translate(6,-6)"/>
<path d="M 571.50 309.30 H 887.20 Q 917.20 309.30 917.20 339.30 V 462.80 Q 917.20 492.80 887.20 492.80 H 571.50 Q 541.50 492.80 541.50 462.80 V 339.30 Q 541.50 309.30 571.50 309.30 Z" fill="none" stroke="#361416" stroke-width="14" opacity="0.85" filter="url(#blur4)" transform="translate(-9,7)"/>
<path d="M 571.50 309.30 H 887.20 Q 917.20 309.30 917.20 339.30 V 462.80 Q 917.20 492.80 887.20 492.80 H 571.50 Q 541.50 492.80 541.50 462.80 V 339.30 Q 541.50 309.30 571.50 309.30 Z" fill="none" stroke="#7a2a2e" stroke-width="1.2" opacity="0.6"/>
</g>
<circle cx="584.00" cy="353.40" r="17.00" fill="url(#bossg)" filter="url(#blur05)"/>
<circle cx="583.50" cy="353.90" r="7.14" fill="url(#bossi)" opacity="0.8" filter="url(#blur05)"/>
<circle cx="866.00" cy="452.00" r="17.00" fill="url(#bossg)" filter="url(#blur05)"/>
<circle cx="865.50" cy="452.50" r="7.14" fill="url(#bossi)" opacity="0.8" filter="url(#blur05)"/>
<rect x="862.70" y="339.70" width="34.80" height="26.40" fill="none" stroke="#9c3c42" stroke-width="1.2" opacity="0.8"/>
<line x1="863.70" y1="340.90" x2="896.50" y2="340.90" stroke="#c46066" stroke-width="1" opacity="0.6"/>
<rect x="562.50" y="438.90" width="26.20" height="25.50" fill="none" stroke="#9c3c42" stroke-width="1.2" opacity="0.8"/>
<line x1="563.50" y1="440.10" x2="587.70" y2="440.10" stroke="#c46066" stroke-width="1" opacity="0.6"/>
<circle cx="538.50" cy="308.50" r="5" fill="none" stroke="#1a0a0a" stroke-width="1.5"/>
<circle cx="538.50" cy="308.50" r="2.6" fill="#fff" stroke="#1a0a0a" stroke-width="1.2"/>
<circle cx="912.60" cy="308.50" r="5" fill="none" stroke="#1a0a0a" stroke-width="1.5"/>
<circle cx="912.60" cy="308.50" r="2.6" fill="#fff" stroke="#1a0a0a" stroke-width="1.2"/>
<circle cx="538.00" cy="497.00" r="5" fill="none" stroke="#1a0a0a" stroke-width="1.5"/>
<circle cx="538.00" cy="497.00" r="2.6" fill="#fff" stroke="#1a0a0a" stroke-width="1.2"/>
<circle cx="912.10" cy="496.20" r="5" fill="none" stroke="#1a0a0a" stroke-width="1.5"/>
<circle cx="912.10" cy="496.20" r="2.6" fill="#fff" stroke="#1a0a0a" stroke-width="1.2"/>
<rect x="602.60" y="292.20" width="36.80" height="8.90" fill="#1c1816"/>
<rect x="600.60" y="292.20" width="40.80" height="5.60" fill="url(#capg)" stroke="#141010" stroke-width="1.2"/>
<path d="M 600.60 287.20 V 281.00 Q 600.60 277.00 604.60 277.00 H 637.40 Q 641.40 277.00 641.40 281.00 V 287.20 Z" fill="url(#capg)" stroke="#141010" stroke-width="1.5"/>
<rect x="596.20" y="287.20" width="49.60" height="5.00" rx="1.2" fill="#161210"/>
<rect x="601.85" y="289.00" width="25.08" height="1.50" fill="#d2cbbb"/>
<rect x="630.12" y="289.00" width="2.28" height="1.50" fill="#d2cbbb"/>
<rect x="634.68" y="289.00" width="6.38" height="1.50" fill="#d2cbbb"/>
<path d="M 597.00 311.40 H 645.00 V 316.00 H 641.00 Q 641.00 321.20 637.00 321.20 H 605.00 Q 601.00 321.20 601.00 316.00 V 316.00 H 597.00 Z" fill="#120c0c" stroke="#120c0c" stroke-width="0.8" stroke-linejoin="round"/>
<rect x="602.52" y="313.20" width="24.20" height="1.60" fill="#d2cbbb"/>
<rect x="629.80" y="313.20" width="2.20" height="1.60" fill="#d2cbbb"/>
<rect x="634.20" y="313.20" width="6.16" height="1.60" fill="#d2cbbb"/>
<text class="gl" text-anchor="middle" transform="translate(621.40,341.7) scale(0.89,1)">Ø32</text>
<rect x="711.60" y="297.40" width="28.00" height="3.70" fill="#1c1816"/>
<rect x="709.60" y="297.40" width="32.00" height="3.40" fill="url(#capg)" stroke="#141010" stroke-width="1.2"/>
<path d="M 709.60 292.40 V 286.70 Q 709.60 282.70 713.60 282.70 H 737.60 Q 741.60 282.70 741.60 286.70 V 292.40 Z" fill="url(#capg)" stroke="#141010" stroke-width="1.5"/>
<rect x="707.60" y="292.40" width="36.00" height="5.00" rx="1.2" fill="#161210"/>
<rect x="712.16" y="294.20" width="17.60" height="1.50" fill="#d2cbbb"/>
<rect x="732.00" y="294.20" width="1.60" height="1.50" fill="#d2cbbb"/>
<rect x="735.20" y="294.20" width="4.48" height="1.50" fill="#d2cbbb"/>
<path d="M 707.60 311.40 H 743.60 V 316.00 H 740.20 Q 740.20 321.20 736.20 321.20 H 715.00 Q 711.00 321.20 711.00 316.00 V 316.00 H 707.60 Z" fill="#120c0c" stroke="#120c0c" stroke-width="0.8" stroke-linejoin="round"/>
<rect x="712.16" y="313.20" width="17.60" height="1.60" fill="#d2cbbb"/>
<rect x="732.00" y="313.20" width="1.60" height="1.60" fill="#d2cbbb"/>
<rect x="735.20" y="313.20" width="4.48" height="1.60" fill="#d2cbbb"/>
<text class="gl" text-anchor="middle" transform="translate(725.80,341.7) scale(0.89,1)">Ø25</text>
<rect x="812.00" y="292.20" width="36.80" height="8.90" fill="#1c1816"/>
<rect x="810.00" y="292.20" width="40.80" height="5.60" fill="url(#capg)" stroke="#141010" stroke-width="1.2"/>
<path d="M 810.00 287.20 V 281.00 Q 810.00 277.00 814.00 277.00 H 846.80 Q 850.80 277.00 850.80 281.00 V 287.20 Z" fill="url(#capg)" stroke="#141010" stroke-width="1.5"/>
<rect x="805.60" y="287.20" width="49.60" height="5.00" rx="1.2" fill="#161210"/>
<rect x="811.25" y="289.00" width="25.08" height="1.50" fill="#d2cbbb"/>
<rect x="839.52" y="289.00" width="2.28" height="1.50" fill="#d2cbbb"/>
<rect x="844.08" y="289.00" width="6.38" height="1.50" fill="#d2cbbb"/>
<path d="M 806.40 311.40 H 854.40 V 316.00 H 850.40 Q 850.40 321.20 846.40 321.20 H 814.40 Q 810.40 321.20 810.40 316.00 V 316.00 H 806.40 Z" fill="#120c0c" stroke="#120c0c" stroke-width="0.8" stroke-linejoin="round"/>
<rect x="811.92" y="313.20" width="24.20" height="1.60" fill="#d2cbbb"/>
<rect x="839.20" y="313.20" width="2.20" height="1.60" fill="#d2cbbb"/>
<rect x="843.60" y="313.20" width="6.16" height="1.60" fill="#d2cbbb"/>
<text class="gl" text-anchor="middle" transform="translate(831.50,341.7) scale(0.89,1)">Ø32</text>
<rect x="596.90" y="503.70" width="30.20" height="4.3" fill="url(#capg)" stroke="#141010" stroke-width="1.1"/>
<path d="M 596.00 512.00 V 518.50 Q 596.00 522.20 600.00 522.20 H 624.00 Q 628.00 522.20 628.00 518.50 V 512.00 Z" fill="url(#capb)" stroke="#141010" stroke-width="1.5"/>
<rect x="594.40" y="507.80" width="35.20" height="4.9" rx="1.2" fill="#161210"/>
<rect x="598.90" y="509.60" width="17.16" height="1.40" fill="#d2cbbb"/>
<rect x="618.24" y="509.60" width="1.56" height="1.40" fill="#d2cbbb"/>
<rect x="621.36" y="509.60" width="4.37" height="1.40" fill="#d2cbbb"/>
<path d="M 596.40 483.20 H 627.60 V 487.20 H 629.80 V 493.20 H 594.20 V 487.20 H 596.40 Z" fill="#120c0c" stroke="#120c0c" stroke-width="1" stroke-linejoin="round"/>
<rect x="598.73" y="490.50" width="17.38" height="1.40" fill="#d2cbbb"/>
<rect x="618.32" y="490.50" width="1.58" height="1.40" fill="#d2cbbb"/>
<rect x="621.48" y="490.50" width="4.42" height="1.40" fill="#d2cbbb"/>
<text class="gl" text-anchor="middle" transform="translate(614.00,479.2) scale(0.89,1)">Ø25</text>
<rect x="674.20" y="503.70" width="27.00" height="4.3" fill="url(#capg)" stroke="#141010" stroke-width="1.1"/>
<path d="M 673.90 512.00 V 518.50 Q 673.90 522.20 677.90 522.20 H 697.50 Q 701.50 522.20 701.50 518.50 V 512.00 Z" fill="url(#capb)" stroke="#141010" stroke-width="1.5"/>
<rect x="671.40" y="507.80" width="32.60" height="4.9" rx="1.2" fill="#161210"/>
<rect x="675.69" y="509.60" width="15.73" height="1.40" fill="#d2cbbb"/>
<rect x="693.42" y="509.60" width="1.43" height="1.40" fill="#d2cbbb"/>
<rect x="696.28" y="509.60" width="4.00" height="1.40" fill="#d2cbbb"/>
<path d="M 674.90 483.20 H 700.50 V 487.20 H 703.10 V 493.20 H 672.30 V 487.20 H 674.90 Z" fill="#120c0c" stroke="#120c0c" stroke-width="1" stroke-linejoin="round"/>
<rect x="676.44" y="490.50" width="14.74" height="1.40" fill="#d2cbbb"/>
<rect x="693.06" y="490.50" width="1.34" height="1.40" fill="#d2cbbb"/>
<rect x="695.74" y="490.50" width="3.75" height="1.40" fill="#d2cbbb"/>
<text class="gl" text-anchor="middle" transform="translate(689.30,479.2) scale(0.89,1)">Ø20</text>
<rect x="750.30" y="503.70" width="27.00" height="4.3" fill="url(#capg)" stroke="#141010" stroke-width="1.1"/>
<path d="M 750.00 512.00 V 518.50 Q 750.00 522.20 754.00 522.20 H 773.60 Q 777.60 522.20 777.60 518.50 V 512.00 Z" fill="url(#capb)" stroke="#141010" stroke-width="1.5"/>
<rect x="747.50" y="507.80" width="32.60" height="4.9" rx="1.2" fill="#161210"/>
<rect x="751.79" y="509.60" width="15.73" height="1.40" fill="#d2cbbb"/>
<rect x="769.52" y="509.60" width="1.43" height="1.40" fill="#d2cbbb"/>
<rect x="772.38" y="509.60" width="4.00" height="1.40" fill="#d2cbbb"/>
<path d="M 751.00 483.20 H 776.60 V 487.20 H 779.20 V 493.20 H 748.40 V 487.20 H 751.00 Z" fill="#120c0c" stroke="#120c0c" stroke-width="1" stroke-linejoin="round"/>
<rect x="752.54" y="490.50" width="14.74" height="1.40" fill="#d2cbbb"/>
<rect x="769.16" y="490.50" width="1.34" height="1.40" fill="#d2cbbb"/>
<rect x="771.84" y="490.50" width="3.75" height="1.40" fill="#d2cbbb"/>
<text class="gl" text-anchor="middle" transform="translate(766.40,479.2) scale(0.89,1)">Ø20</text>
<rect x="823.90" y="503.70" width="30.20" height="4.3" fill="url(#capg)" stroke="#141010" stroke-width="1.1"/>
<path d="M 823.00 512.00 V 518.50 Q 823.00 522.20 827.00 522.20 H 851.00 Q 855.00 522.20 855.00 518.50 V 512.00 Z" fill="url(#capb)" stroke="#141010" stroke-width="1.5"/>
<rect x="821.40" y="507.80" width="35.20" height="4.9" rx="1.2" fill="#161210"/>
<rect x="825.90" y="509.60" width="17.16" height="1.40" fill="#d2cbbb"/>
<rect x="845.24" y="509.60" width="1.56" height="1.40" fill="#d2cbbb"/>
<rect x="848.36" y="509.60" width="4.37" height="1.40" fill="#d2cbbb"/>
<path d="M 823.40 483.20 H 854.60 V 487.20 H 856.80 V 493.20 H 821.20 V 487.20 H 823.40 Z" fill="#120c0c" stroke="#120c0c" stroke-width="1" stroke-linejoin="round"/>
<rect x="825.73" y="490.50" width="17.38" height="1.40" fill="#d2cbbb"/>
<rect x="845.32" y="490.50" width="1.58" height="1.40" fill="#d2cbbb"/>
<rect x="848.48" y="490.50" width="4.42" height="1.40" fill="#d2cbbb"/>
<text class="gl" text-anchor="middle" transform="translate(838.90,479.2) scale(0.89,1)">Ø25</text>
<path d="M 541.50 423.00 H 562.30 V 451.30 A 10.90 10.90 0 0 1 541.50 451.30 V 442.30 H 541.50 V 423.00 Z" fill="#bc9030" stroke="#120a08" stroke-width="1.5"/>
<circle cx="553.80" cy="451.30" r="6.8" fill="#120a0a"/>
<circle cx="553.80" cy="451.30" r="1.8" fill="#d8b070"/>
<path d="M 550.80 429.00 h 6 v 9 h -6 z M 546.80 432.50 h 4 v 3 h -4 z" fill="#120a0a"/>
<rect x="541.00" y="391.00" width="2" height="51.30" fill="#120a0a"/>
<rect x="545.00" y="381.60" width="359.80" height="41.40" fill="#0c0a0a"/>
<rect x="546.50" y="382.60" width="40.00" height="3.8" fill="#b8b418"/>
<rect x="546.50" y="388.60" width="40.00" height="27.40" fill="#b8b418"/>
<rect x="546.50" y="418.40" width="40.00" height="3.8" fill="#b8b418"/>
<circle cx="554.50" cy="402.30" r="5.40" fill="#141010"/>
<circle cx="554.50" cy="402.30" r="3.24" fill="none" stroke="#d6c84a" stroke-width="0.8" opacity="0.7"/>
<path d="M 551.26 402.30 H 557.74 M 554.50 399.06 V 405.54" stroke="#141010" stroke-width="1.2"/>
<rect x="587.80" y="385.10" width="9.40" height="34.40" fill="#c4c4c8"/>
<circle cx="592.50" cy="402.30" r="4.20" fill="#141010"/>
<circle cx="592.50" cy="402.30" r="2.52" fill="none" stroke="#8a7a50" stroke-width="0.8" opacity="0.7"/>
<path d="M 589.98 402.30 H 595.02 M 592.50 399.78 V 404.82" stroke="#141010" stroke-width="1.2"/>
<rect x="602.00" y="385.10" width="7.6" height="1.7" fill="#dcdcdc"/>
<rect x="602.00" y="418.80" width="7.6" height="1.6" fill="#b8b8b8"/>
<rect x="601.10" y="387.50" width="9.4" height="11.0" fill="#1c130e"/>
<rect x="603.00" y="389.50" width="5.6" height="7" fill="none" stroke="#5a4434" stroke-width="0.9" stroke-dasharray="2 1.2"/>
<rect x="601.10" y="405.30" width="9.4" height="11.0" fill="#1c130e"/>
<rect x="603.00" y="407.30" width="5.6" height="7" fill="none" stroke="#5a4434" stroke-width="0.9" stroke-dasharray="2 1.2"/>
<rect x="611.30" y="388.10" width="1.3" height="28.40" fill="#a8a8a8"/>
<rect x="611.30" y="385.10" width="1.3" height="1.7" fill="#888"/>
<rect x="614.72" y="385.10" width="7.6" height="1.7" fill="#dcdcdc"/>
<rect x="614.72" y="418.80" width="7.6" height="1.6" fill="#b8b8b8"/>
<rect x="613.82" y="387.50" width="9.4" height="11.0" fill="#1c130e"/>
<rect x="615.72" y="389.50" width="5.6" height="7" fill="none" stroke="#5a4434" stroke-width="0.9" stroke-dasharray="2 1.2"/>
<rect x="613.82" y="405.30" width="9.4" height="11.0" fill="#1c130e"/>
<rect x="615.72" y="407.30" width="5.6" height="7" fill="none" stroke="#5a4434" stroke-width="0.9" stroke-dasharray="2 1.2"/>
<rect x="624.02" y="388.10" width="1.3" height="28.40" fill="#a8a8a8"/>
<rect x="624.02" y="385.10" width="1.3" height="1.7" fill="#888"/>
<rect x="627.44" y="385.10" width="7.6" height="1.7" fill="#dcdcdc"/>
<rect x="627.44" y="418.80" width="7.6" height="1.6" fill="#b8b8b8"/>
<rect x="626.54" y="387.50" width="9.4" height="11.0" fill="#1c130e"/>
<rect x="628.44" y="389.50" width="5.6" height="7" fill="none" stroke="#5a4434" stroke-width="0.9" stroke-dasharray="2 1.2"/>
<rect x="626.54" y="405.30" width="9.4" height="11.0" fill="#1c130e"/>
<rect x="628.44" y="407.30" width="5.6" height="7" fill="none" stroke="#5a4434" stroke-width="0.9" stroke-dasharray="2 1.2"/>
<rect x="636.74" y="388.10" width="1.3" height="28.40" fill="#a8a8a8"/>
<rect x="636.74" y="385.10" width="1.3" height="1.7" fill="#888"/>
<rect x="640.16" y="385.10" width="7.6" height="1.7" fill="#dcdcdc"/>
<rect x="640.16" y="418.80" width="7.6" height="1.6" fill="#b8b8b8"/>
<rect x="639.26" y="387.50" width="9.4" height="11.0" fill="#1c130e"/>
<rect x="641.16" y="389.50" width="5.6" height="7" fill="none" stroke="#5a4434" stroke-width="0.9" stroke-dasharray="2 1.2"/>
<rect x="639.26" y="405.30" width="9.4" height="11.0" fill="#1c130e"/>
<rect x="641.16" y="407.30" width="5.6" height="7" fill="none" stroke="#5a4434" stroke-width="0.9" stroke-dasharray="2 1.2"/>
<rect x="649.46" y="388.10" width="1.3" height="28.40" fill="#a8a8a8"/>
<rect x="649.46" y="385.10" width="1.3" height="1.7" fill="#888"/>
<rect x="652.88" y="385.10" width="7.6" height="1.7" fill="#dcdcdc"/>
<rect x="652.88" y="418.80" width="7.6" height="1.6" fill="#b8b8b8"/>
<rect x="651.98" y="387.50" width="9.4" height="11.0" fill="#1c130e"/>
<rect x="653.88" y="389.50" width="5.6" height="7" fill="none" stroke="#5a4434" stroke-width="0.9" stroke-dasharray="2 1.2"/>
<rect x="651.98" y="405.30" width="9.4" height="11.0" fill="#1c130e"/>
<rect x="653.88" y="407.30" width="5.6" height="7" fill="none" stroke="#5a4434" stroke-width="0.9" stroke-dasharray="2 1.2"/>
<rect x="662.18" y="388.10" width="1.3" height="28.40" fill="#a8a8a8"/>
<rect x="662.18" y="385.10" width="1.3" height="1.7" fill="#888"/>
<rect x="665.60" y="385.10" width="7.6" height="1.7" fill="#dcdcdc"/>
<rect x="665.60" y="418.80" width="7.6" height="1.6" fill="#b8b8b8"/>
<rect x="664.70" y="387.50" width="9.4" height="11.0" fill="#1c130e"/>
<rect x="666.60" y="389.50" width="5.6" height="7" fill="none" stroke="#5a4434" stroke-width="0.9" stroke-dasharray="2 1.2"/>
<rect x="664.70" y="405.30" width="9.4" height="11.0" fill="#1c130e"/>
<rect x="666.60" y="407.30" width="5.6" height="7" fill="none" stroke="#5a4434" stroke-width="0.9" stroke-dasharray="2 1.2"/>
<rect x="674.90" y="388.10" width="1.3" height="28.40" fill="#a8a8a8"/>
<rect x="674.90" y="385.10" width="1.3" height="1.7" fill="#888"/>
<rect x="678.32" y="385.10" width="7.6" height="1.7" fill="#dcdcdc"/>
<rect x="678.32" y="418.80" width="7.6" height="1.6" fill="#b8b8b8"/>
<rect x="677.42" y="387.50" width="9.4" height="11.0" fill="#1c130e"/>
<rect x="679.32" y="389.50" width="5.6" height="7" fill="none" stroke="#5a4434" stroke-width="0.9" stroke-dasharray="2 1.2"/>
<rect x="677.42" y="405.30" width="9.4" height="11.0" fill="#1c130e"/>
<rect x="679.32" y="407.30" width="5.6" height="7" fill="none" stroke="#5a4434" stroke-width="0.9" stroke-dasharray="2 1.2"/>
<rect x="687.62" y="388.10" width="1.3" height="28.40" fill="#a8a8a8"/>
<rect x="687.62" y="385.10" width="1.3" height="1.7" fill="#888"/>
<rect x="691.04" y="385.10" width="7.6" height="1.7" fill="#dcdcdc"/>
<rect x="691.04" y="418.80" width="7.6" height="1.6" fill="#b8b8b8"/>
<rect x="690.14" y="387.50" width="9.4" height="11.0" fill="#1c130e"/>
<rect x="692.04" y="389.50" width="5.6" height="7" fill="none" stroke="#5a4434" stroke-width="0.9" stroke-dasharray="2 1.2"/>
<rect x="690.14" y="405.30" width="9.4" height="11.0" fill="#1c130e"/>
<rect x="692.04" y="407.30" width="5.6" height="7" fill="none" stroke="#5a4434" stroke-width="0.9" stroke-dasharray="2 1.2"/>
<rect x="700.34" y="388.10" width="1.3" height="28.40" fill="#a8a8a8"/>
<rect x="700.34" y="385.10" width="1.3" height="1.7" fill="#888"/>
<rect x="703.76" y="385.10" width="7.6" height="1.7" fill="#dcdcdc"/>
<rect x="703.76" y="418.80" width="7.6" height="1.6" fill="#b8b8b8"/>
<rect x="702.86" y="387.50" width="9.4" height="11.0" fill="#1c130e"/>
<rect x="704.76" y="389.50" width="5.6" height="7" fill="none" stroke="#5a4434" stroke-width="0.9" stroke-dasharray="2 1.2"/>
<rect x="702.86" y="405.30" width="9.4" height="11.0" fill="#1c130e"/>
<rect x="704.76" y="407.30" width="5.6" height="7" fill="none" stroke="#5a4434" stroke-width="0.9" stroke-dasharray="2 1.2"/>
<rect x="713.06" y="388.10" width="1.3" height="28.40" fill="#a8a8a8"/>
<rect x="713.06" y="385.10" width="1.3" height="1.7" fill="#888"/>
<rect x="716.48" y="385.10" width="7.6" height="1.7" fill="#dcdcdc"/>
<rect x="716.48" y="418.80" width="7.6" height="1.6" fill="#b8b8b8"/>
<rect x="715.58" y="387.50" width="9.4" height="11.0" fill="#1c130e"/>
<rect x="717.48" y="389.50" width="5.6" height="7" fill="none" stroke="#5a4434" stroke-width="0.9" stroke-dasharray="2 1.2"/>
<rect x="715.58" y="405.30" width="9.4" height="11.0" fill="#1c130e"/>
<rect x="717.48" y="407.30" width="5.6" height="7" fill="none" stroke="#5a4434" stroke-width="0.9" stroke-dasharray="2 1.2"/>
<rect x="725.78" y="388.10" width="1.3" height="28.40" fill="#a8a8a8"/>
<rect x="725.78" y="385.10" width="1.3" height="1.7" fill="#888"/>
<rect x="729.20" y="385.10" width="7.6" height="1.7" fill="#dcdcdc"/>
<rect x="729.20" y="418.80" width="7.6" height="1.6" fill="#b8b8b8"/>
<rect x="728.30" y="387.50" width="9.4" height="11.0" fill="#1c130e"/>
<rect x="730.20" y="389.50" width="5.6" height="7" fill="none" stroke="#5a4434" stroke-width="0.9" stroke-dasharray="2 1.2"/>
<rect x="728.30" y="405.30" width="9.4" height="11.0" fill="#1c130e"/>
<rect x="730.20" y="407.30" width="5.6" height="7" fill="none" stroke="#5a4434" stroke-width="0.9" stroke-dasharray="2 1.2"/>
<rect x="738.50" y="388.10" width="1.3" height="28.40" fill="#a8a8a8"/>
<rect x="738.50" y="385.10" width="1.3" height="1.7" fill="#888"/>
<rect x="741.92" y="385.10" width="7.6" height="1.7" fill="#dcdcdc"/>
<rect x="741.92" y="418.80" width="7.6" height="1.6" fill="#b8b8b8"/>
<rect x="741.02" y="387.50" width="9.4" height="11.0" fill="#1c130e"/>
<rect x="742.92" y="389.50" width="5.6" height="7" fill="none" stroke="#5a4434" stroke-width="0.9" stroke-dasharray="2 1.2"/>
<rect x="741.02" y="405.30" width="9.4" height="11.0" fill="#1c130e"/>
<rect x="742.92" y="407.30" width="5.6" height="7" fill="none" stroke="#5a4434" stroke-width="0.9" stroke-dasharray="2 1.2"/>
<rect x="751.22" y="388.10" width="1.3" height="28.40" fill="#a8a8a8"/>
<rect x="751.22" y="385.10" width="1.3" height="1.7" fill="#888"/>
<rect x="754.64" y="385.10" width="7.6" height="1.7" fill="#dcdcdc"/>
<rect x="754.64" y="418.80" width="7.6" height="1.6" fill="#b8b8b8"/>
<rect x="753.74" y="387.50" width="9.4" height="11.0" fill="#1c130e"/>
<rect x="755.64" y="389.50" width="5.6" height="7" fill="none" stroke="#5a4434" stroke-width="0.9" stroke-dasharray="2 1.2"/>
<rect x="753.74" y="405.30" width="9.4" height="11.0" fill="#1c130e"/>
<rect x="755.64" y="407.30" width="5.6" height="7" fill="none" stroke="#5a4434" stroke-width="0.9" stroke-dasharray="2 1.2"/>
<rect x="763.94" y="388.10" width="1.3" height="28.40" fill="#a8a8a8"/>
<rect x="763.94" y="385.10" width="1.3" height="1.7" fill="#888"/>
<rect x="767.36" y="385.10" width="7.6" height="1.7" fill="#dcdcdc"/>
<rect x="767.36" y="418.80" width="7.6" height="1.6" fill="#b8b8b8"/>
<rect x="766.46" y="387.50" width="9.4" height="11.0" fill="#1c130e"/>
<rect x="768.36" y="389.50" width="5.6" height="7" fill="none" stroke="#5a4434" stroke-width="0.9" stroke-dasharray="2 1.2"/>
<rect x="766.46" y="405.30" width="9.4" height="11.0" fill="#1c130e"/>
<rect x="768.36" y="407.30" width="5.6" height="7" fill="none" stroke="#5a4434" stroke-width="0.9" stroke-dasharray="2 1.2"/>
<rect x="776.66" y="388.10" width="1.3" height="28.40" fill="#a8a8a8"/>
<rect x="776.66" y="385.10" width="1.3" height="1.7" fill="#888"/>
<rect x="780.08" y="385.10" width="7.6" height="1.7" fill="#dcdcdc"/>
<rect x="780.08" y="418.80" width="7.6" height="1.6" fill="#b8b8b8"/>
<rect x="779.18" y="387.50" width="9.4" height="11.0" fill="#1c130e"/>
<rect x="781.08" y="389.50" width="5.6" height="7" fill="none" stroke="#5a4434" stroke-width="0.9" stroke-dasharray="2 1.2"/>
<rect x="779.18" y="405.30" width="9.4" height="11.0" fill="#1c130e"/>
<rect x="781.08" y="407.30" width="5.6" height="7" fill="none" stroke="#5a4434" stroke-width="0.9" stroke-dasharray="2 1.2"/>
<rect x="789.38" y="388.10" width="1.3" height="28.40" fill="#a8a8a8"/>
<rect x="789.38" y="385.10" width="1.3" height="1.7" fill="#888"/>
<rect x="792.80" y="385.10" width="7.6" height="1.7" fill="#dcdcdc"/>
<rect x="792.80" y="418.80" width="7.6" height="1.6" fill="#b8b8b8"/>
<rect x="791.90" y="387.50" width="9.4" height="11.0" fill="#1c130e"/>
<rect x="793.80" y="389.50" width="5.6" height="7" fill="none" stroke="#5a4434" stroke-width="0.9" stroke-dasharray="2 1.2"/>
<rect x="791.90" y="405.30" width="9.4" height="11.0" fill="#1c130e"/>
<rect x="793.80" y="407.30" width="5.6" height="7" fill="none" stroke="#5a4434" stroke-width="0.9" stroke-dasharray="2 1.2"/>
<rect x="802.10" y="388.10" width="1.3" height="28.40" fill="#a8a8a8"/>
<rect x="802.10" y="385.10" width="1.3" height="1.7" fill="#888"/>
<rect x="805.52" y="385.10" width="7.6" height="1.7" fill="#dcdcdc"/>
<rect x="805.52" y="418.80" width="7.6" height="1.6" fill="#b8b8b8"/>
<rect x="804.62" y="387.50" width="9.4" height="11.0" fill="#1c130e"/>
<rect x="806.52" y="389.50" width="5.6" height="7" fill="none" stroke="#5a4434" stroke-width="0.9" stroke-dasharray="2 1.2"/>
<rect x="804.62" y="405.30" width="9.4" height="11.0" fill="#1c130e"/>
<rect x="806.52" y="407.30" width="5.6" height="7" fill="none" stroke="#5a4434" stroke-width="0.9" stroke-dasharray="2 1.2"/>
<rect x="814.82" y="388.10" width="1.3" height="28.40" fill="#a8a8a8"/>
<rect x="814.82" y="385.10" width="1.3" height="1.7" fill="#888"/>
<rect x="818.24" y="385.10" width="7.6" height="1.7" fill="#dcdcdc"/>
<rect x="818.24" y="418.80" width="7.6" height="1.6" fill="#b8b8b8"/>
<rect x="817.34" y="387.50" width="9.4" height="11.0" fill="#1c130e"/>
<rect x="819.24" y="389.50" width="5.6" height="7" fill="none" stroke="#5a4434" stroke-width="0.9" stroke-dasharray="2 1.2"/>
<rect x="817.34" y="405.30" width="9.4" height="11.0" fill="#1c130e"/>
<rect x="819.24" y="407.30" width="5.6" height="7" fill="none" stroke="#5a4434" stroke-width="0.9" stroke-dasharray="2 1.2"/>
<rect x="827.54" y="388.10" width="1.3" height="28.40" fill="#a8a8a8"/>
<rect x="827.54" y="385.10" width="1.3" height="1.7" fill="#888"/>
<rect x="830.96" y="385.10" width="7.6" height="1.7" fill="#dcdcdc"/>
<rect x="830.96" y="418.80" width="7.6" height="1.6" fill="#b8b8b8"/>
<rect x="830.06" y="387.50" width="9.4" height="11.0" fill="#1c130e"/>
<rect x="831.96" y="389.50" width="5.6" height="7" fill="none" stroke="#5a4434" stroke-width="0.9" stroke-dasharray="2 1.2"/>
<rect x="830.06" y="405.30" width="9.4" height="11.0" fill="#1c130e"/>
<rect x="831.96" y="407.30" width="5.6" height="7" fill="none" stroke="#5a4434" stroke-width="0.9" stroke-dasharray="2 1.2"/>
<rect x="840.26" y="388.10" width="1.3" height="28.40" fill="#a8a8a8"/>
<rect x="840.26" y="385.10" width="1.3" height="1.7" fill="#888"/>
<rect x="843.68" y="385.10" width="7.6" height="1.7" fill="#dcdcdc"/>
<rect x="843.68" y="418.80" width="7.6" height="1.6" fill="#b8b8b8"/>
<rect x="842.78" y="387.50" width="9.4" height="11.0" fill="#1c130e"/>
<rect x="844.68" y="389.50" width="5.6" height="7" fill="none" stroke="#5a4434" stroke-width="0.9" stroke-dasharray="2 1.2"/>
<rect x="842.78" y="405.30" width="9.4" height="11.0" fill="#1c130e"/>
<rect x="844.68" y="407.30" width="5.6" height="7" fill="none" stroke="#5a4434" stroke-width="0.9" stroke-dasharray="2 1.2"/>
<rect x="852.98" y="388.10" width="1.3" height="28.40" fill="#a8a8a8"/>
<rect x="852.98" y="385.10" width="1.3" height="1.7" fill="#888"/>
<rect x="600.40" y="400.10" width="253.40" height="4.4" fill="#b4b4b4"/>
<rect x="854.00" y="390.60" width="10.00" height="5.60" fill="#c4c4c8"/>
<rect x="854.00" y="408.40" width="10.00" height="5.60" fill="#c4c4c8"/>
<circle cx="859.00" cy="402.30" r="4.20" fill="#141010"/>
<circle cx="859.00" cy="402.30" r="2.52" fill="none" stroke="#8a7a50" stroke-width="0.8" opacity="0.7"/>
<path d="M 856.48 402.30 H 861.52 M 859.00 399.78 V 404.82" stroke="#141010" stroke-width="1.2"/>
<rect x="855.50" y="382.60" width="48.10" height="3.8" fill="#e0d818"/>
<rect x="864.00" y="388.60" width="39.60" height="27.40" fill="#e0d818"/>
<rect x="855.50" y="418.40" width="48.10" height="3.8" fill="#e0d818"/>
<circle cx="895.40" cy="402.30" r="5.40" fill="#141010"/>
<circle cx="895.40" cy="402.30" r="3.24" fill="none" stroke="#d6c84a" stroke-width="0.8" opacity="0.7"/>
<path d="M 892.16 402.30 H 898.64 M 895.40 399.06 V 405.54" stroke="#141010" stroke-width="1.2"/>
<rect x="726.3" y="398" width="1.3" height="9" fill="#141010"/>
<path d="M 908.5 377 Q 906 378 906 382 V 424 Q 906 428 908.5 429" fill="none" stroke="#141010" stroke-width="1.8"/>
<rect x="905.2" y="391" width="5.4" height="24" fill="#141010"/>
<rect x="906.6" y="395" width="2.8" height="16" fill="#c27a7e"/>
<line x1="23.00" y1="280.30" x2="223.00" y2="280.30" stroke="#151515" stroke-width="1.35"/>
<line x1="23.00" y1="524.50" x2="172.00" y2="524.50" stroke="#151515" stroke-width="1.35"/>
<line x1="26.50" y1="280.30" x2="26.50" y2="524.50" stroke="#151515" stroke-width="1.35"/>
<polygon points="26.50,280.30 23.50,296.80 26.50,296.20 29.50,296.80" fill="#151515"/>
<polygon points="26.50,524.50 23.50,508.00 26.50,508.60 29.50,508.00" fill="#151515"/>
<g transform="translate(22.70,417.30) rotate(-90)"><text transform="scale(1.0000,1)" x="-1.18" y="0" style="font-size:23.60px" fill="#111" stroke="#111" stroke-width="0.25">2</text><path d="M 19.25 0.00 L 19.25 -16.24 L 16.95 -16.24 L 13.25 -10.84 L 14.15 -8.74 L 17.25 -13.04 L 17.25 0.00 Z" fill="#111"/><text transform="scale(1.0000,1)" x="20.56" y="0" style="font-size:23.60px" fill="#111" stroke="#111" stroke-width="0.25">2</text></g>
<line x1="52.00" y1="303.30" x2="118.50" y2="303.30" stroke="#151515" stroke-width="1.35"/>
<line x1="52.00" y1="506.90" x2="118.50" y2="506.90" stroke="#151515" stroke-width="1.35"/>
<line x1="55.00" y1="303.30" x2="55.00" y2="506.90" stroke="#151515" stroke-width="1.35"/>
<polygon points="55.00,303.30 52.00,319.80 55.00,319.20 58.00,319.80" fill="#151515"/>
<polygon points="55.00,506.90 52.00,490.40 55.00,491.00 58.00,490.40" fill="#151515"/>
<g transform="translate(51.00,418.20) rotate(-90)"><path d="M 6.00 0.00 L 6.00 -16.24 L 3.70 -16.24 L 0.00 -10.84 L 0.90 -8.74 L 4.00 -13.04 L 4.00 0.00 Z" fill="#111"/><text transform="scale(1.0000,1)" x="5.43" y="0" style="font-size:23.60px" fill="#111" stroke="#111" stroke-width="0.25">7</text><text transform="scale(1.0000,1)" x="17.07" y="0" style="font-size:23.60px" fill="#111" stroke="#111" stroke-width="0.25">5</text></g>
<line x1="82.00" y1="355.40" x2="384.50" y2="355.40" stroke="#151515" stroke-width="1.35"/>
<line x1="82.00" y1="454.70" x2="118.50" y2="454.70" stroke="#151515" stroke-width="1.35"/>
<line x1="84.50" y1="355.40" x2="84.50" y2="454.70" stroke="#151515" stroke-width="1.35"/>
<polygon points="84.50,355.40 81.50,371.90 84.50,371.30 87.50,371.90" fill="#151515"/>
<polygon points="84.50,454.70 81.50,438.20 84.50,438.80 87.50,438.20" fill="#151515"/>
<g transform="translate(80.70,415.90) rotate(-90)"><text transform="scale(1.0000,1)" x="-1.01" y="0" style="font-size:23.60px" fill="#111" stroke="#111" stroke-width="0.25">8</text><text transform="scale(1.0000,1)" x="10.57" y="0" style="font-size:23.60px" fill="#111" stroke="#111" stroke-width="0.25">5</text></g>
<line x1="118.50" y1="506.00" x2="118.50" y2="561.00" stroke="#151515" stroke-width="1.35"/>
<line x1="368.90" y1="506.00" x2="368.90" y2="561.00" stroke="#151515" stroke-width="1.35"/>
<line x1="118.50" y1="559.10" x2="368.90" y2="559.10" stroke="#151515" stroke-width="1.35"/>
<polygon points="118.50,559.10 135.00,556.10 134.40,559.10 135.00,562.10" fill="#151515"/>
<polygon points="368.90,559.10 352.40,556.10 353.00,559.10 352.40,562.10" fill="#151515"/>
<g transform="translate(227.90,555.50)"><text transform="scale(0.9500,1)" x="-1.17" y="0" style="font-size:23.30px" fill="#111" stroke="#111" stroke-width="0.25">2</text><path d="M 18.95 0.00 L 18.95 -16.03 L 16.65 -16.03 L 12.95 -10.63 L 13.85 -8.53 L 16.95 -12.83 L 16.95 0.00 Z" fill="#111"/><text transform="scale(0.9500,1)" x="22.02" y="0" style="font-size:23.30px" fill="#111" stroke="#111" stroke-width="0.25">5</text></g>
<line x1="105.80" y1="443.00" x2="105.80" y2="591.50" stroke="#151515" stroke-width="1.35"/>
<line x1="384.50" y1="343.60" x2="384.50" y2="591.50" stroke="#151515" stroke-width="1.35"/>
<line x1="105.80" y1="589.50" x2="384.50" y2="589.50" stroke="#151515" stroke-width="1.35"/>
<polygon points="105.80,589.50 122.30,586.50 121.70,589.50 122.30,592.50" fill="#151515"/>
<polygon points="384.50,589.50 368.00,586.50 368.60,589.50 368.00,592.50" fill="#151515"/>
<g transform="translate(227.90,585.60)"><text transform="scale(0.9500,1)" x="-1.17" y="0" style="font-size:23.30px" fill="#111" stroke="#111" stroke-width="0.25">2</text><text transform="scale(0.9500,1)" x="12.05" y="0" style="font-size:23.30px" fill="#111" stroke="#111" stroke-width="0.25">3</text><text transform="scale(0.9500,1)" x="25.19" y="0" style="font-size:23.30px" fill="#111" stroke="#111" stroke-width="0.25">9</text></g>
<line x1="94.40" y1="455.00" x2="94.40" y2="621.50" stroke="#151515" stroke-width="1.35"/>
<line x1="395.90" y1="356.00" x2="395.90" y2="621.50" stroke="#151515" stroke-width="1.35"/>
<line x1="94.40" y1="619.60" x2="395.90" y2="619.60" stroke="#151515" stroke-width="1.35"/>
<polygon points="94.40,619.60 110.90,616.60 110.30,619.60 110.90,622.60" fill="#151515"/>
<polygon points="395.90,619.60 379.40,616.60 380.00,619.60 379.40,622.60" fill="#151515"/>
<g transform="translate(227.90,615.70)"><text transform="scale(0.9500,1)" x="-1.17" y="0" style="font-size:23.30px" fill="#111" stroke="#111" stroke-width="0.25">2</text><text transform="scale(0.9500,1)" x="12.00" y="0" style="font-size:23.30px" fill="#111" stroke="#111" stroke-width="0.25">5</text><text transform="scale(0.9500,1)" x="25.19" y="0" style="font-size:23.30px" fill="#111" stroke="#111" stroke-width="0.25">9</text></g>
<line x1="428.00" y1="277.90" x2="600.00" y2="277.90" stroke="#151515" stroke-width="1.35"/>
<line x1="428.00" y1="522.30" x2="594.00" y2="522.30" stroke="#151515" stroke-width="1.35"/>
<line x1="431.80" y1="277.90" x2="431.80" y2="522.30" stroke="#151515" stroke-width="1.35"/>
<polygon points="431.80,277.90 428.80,294.40 431.80,293.80 434.80,294.40" fill="#151515"/>
<polygon points="431.80,522.30 428.80,505.80 431.80,506.40 434.80,505.80" fill="#151515"/>
<g transform="translate(427.70,415.00) rotate(-90)"><text transform="scale(1.0000,1)" x="-1.18" y="0" style="font-size:23.60px" fill="#111" stroke="#111" stroke-width="0.25">2</text><path d="M 19.45 0.00 L 19.45 -16.24 L 17.15 -16.24 L 13.45 -10.84 L 14.35 -8.74 L 17.45 -13.04 L 17.45 0.00 Z" fill="#111"/><text transform="scale(1.0000,1)" x="20.96" y="0" style="font-size:23.60px" fill="#111" stroke="#111" stroke-width="0.25">2</text></g>
<line x1="460.00" y1="300.90" x2="530.00" y2="300.90" stroke="#151515" stroke-width="1.35"/>
<line x1="460.00" y1="504.20" x2="530.00" y2="504.20" stroke="#151515" stroke-width="1.35"/>
<line x1="463.50" y1="300.90" x2="463.50" y2="504.20" stroke="#151515" stroke-width="1.35"/>
<polygon points="463.50,300.90 460.50,317.40 463.50,316.80 466.50,317.40" fill="#151515"/>
<polygon points="463.50,504.20 460.50,487.70 463.50,488.30 466.50,487.70" fill="#151515"/>
<g transform="translate(458.80,415.90) rotate(-90)"><path d="M 6.00 0.00 L 6.00 -16.24 L 3.70 -16.24 L 0.00 -10.84 L 0.90 -8.74 L 4.00 -13.04 L 4.00 0.00 Z" fill="#111"/><text transform="scale(1.0000,1)" x="5.68" y="0" style="font-size:23.60px" fill="#111" stroke="#111" stroke-width="0.25">7</text><text transform="scale(1.0000,1)" x="17.57" y="0" style="font-size:23.60px" fill="#111" stroke="#111" stroke-width="0.25">5</text></g>
<line x1="489.00" y1="353.30" x2="933.40" y2="353.30" stroke="#151515" stroke-width="1.35"/>
<line x1="489.00" y1="452.00" x2="531.00" y2="452.00" stroke="#151515" stroke-width="1.35"/>
<line x1="492.20" y1="353.30" x2="492.20" y2="452.00" stroke="#151515" stroke-width="1.35"/>
<polygon points="492.20,353.30 489.20,369.80 492.20,369.20 495.20,369.80" fill="#151515"/>
<polygon points="492.20,452.00 489.20,435.50 492.20,436.10 495.20,435.50" fill="#151515"/>
<g transform="translate(488.00,413.10) rotate(-90)"><text transform="scale(1.0000,1)" x="-1.01" y="0" style="font-size:23.60px" fill="#111" stroke="#111" stroke-width="0.25">8</text><text transform="scale(1.0000,1)" x="10.97" y="0" style="font-size:23.60px" fill="#111" stroke="#111" stroke-width="0.25">5</text></g>
<line x1="530.00" y1="504.00" x2="530.00" y2="558.50" stroke="#151515" stroke-width="1.35"/>
<line x1="921.00" y1="504.00" x2="921.00" y2="558.50" stroke="#151515" stroke-width="1.35"/>
<line x1="530.00" y1="556.70" x2="921.00" y2="556.70" stroke="#151515" stroke-width="1.35"/>
<polygon points="530.00,556.70 546.50,553.70 545.90,556.70 546.50,559.70" fill="#151515"/>
<polygon points="921.00,556.70 904.50,553.70 905.10,556.70 904.50,559.70" fill="#151515"/>
<g transform="translate(708.50,552.90)"><text transform="scale(0.9500,1)" x="-0.89" y="0" style="font-size:23.30px" fill="#111" stroke="#111" stroke-width="0.25">3</text><text transform="scale(0.9500,1)" x="12.27" y="0" style="font-size:23.30px" fill="#111" stroke="#111" stroke-width="0.25">3</text><text transform="scale(0.9500,1)" x="25.12" y="0" style="font-size:23.30px" fill="#111" stroke="#111" stroke-width="0.25">6</text></g>
<line x1="518.40" y1="441.00" x2="518.40" y2="588.70" stroke="#151515" stroke-width="1.35"/>
<line x1="933.40" y1="341.20" x2="933.40" y2="588.70" stroke="#151515" stroke-width="1.35"/>
<line x1="518.40" y1="586.90" x2="933.40" y2="586.90" stroke="#151515" stroke-width="1.35"/>
<polygon points="518.40,586.90 534.90,583.90 534.30,586.90 534.90,589.90" fill="#151515"/>
<polygon points="933.40,586.90 916.90,583.90 917.50,586.90 916.90,589.90" fill="#151515"/>
<g transform="translate(709.30,582.30)"><text transform="scale(0.9500,1)" x="-0.89" y="0" style="font-size:23.30px" fill="#111" stroke="#111" stroke-width="0.25">3</text><text transform="scale(0.9500,1)" x="11.96" y="0" style="font-size:23.30px" fill="#111" stroke="#111" stroke-width="0.25">5</text><text transform="scale(0.9500,1)" x="24.60" y="0" style="font-size:23.30px" fill="#111" stroke="#111" stroke-width="0.25">6</text></g>
<line x1="507.20" y1="452.00" x2="507.20" y2="620.50" stroke="#151515" stroke-width="1.35"/>
<line x1="945.20" y1="353.20" x2="945.20" y2="620.50" stroke="#151515" stroke-width="1.35"/>
<line x1="507.20" y1="618.80" x2="945.20" y2="618.80" stroke="#151515" stroke-width="1.35"/>
<polygon points="507.20,618.80 523.70,615.80 523.10,618.80 523.70,621.80" fill="#151515"/>
<polygon points="945.20,618.80 928.70,615.80 929.30,618.80 928.70,621.80" fill="#151515"/>
<g transform="translate(709.30,614.70)"><text transform="scale(0.9500,1)" x="-0.89" y="0" style="font-size:23.30px" fill="#111" stroke="#111" stroke-width="0.25">3</text><text transform="scale(0.9500,1)" x="11.93" y="0" style="font-size:23.30px" fill="#111" stroke="#111" stroke-width="0.25">7</text><text transform="scale(0.9500,1)" x="24.60" y="0" style="font-size:23.30px" fill="#111" stroke="#111" stroke-width="0.25">6</text></g>
<path d="M 861.5 282.2 H 925 L 937 374" fill="none" stroke="#151515" stroke-width="1.1"/>
<g transform="translate(0,274.80)"><text transform="scale(0.9100,1)" x="948.82" y="0" style="font-size:24.20px" fill="#111" stroke="#111" stroke-width="0.25">Ø</text><text transform="scale(0.9100,1)" x="971.93" y="0" style="font-size:24.20px" fill="#111" stroke="#111" stroke-width="0.25">8</text><text transform="scale(0.9100,1)" x="985.29" y="0" style="font-size:24.20px" fill="#111" stroke="#111" stroke-width="0.25">,</text><text transform="scale(0.9100,1)" x="991.56" y="0" style="font-size:24.20px" fill="#111" stroke="#111" stroke-width="0.25">5</text></g>
</svg></body></html>
